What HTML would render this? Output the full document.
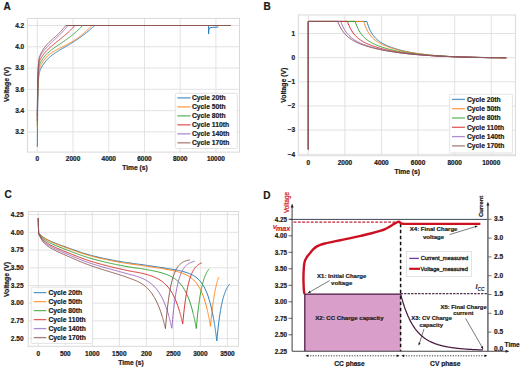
<!DOCTYPE html><html><head><meta charset="utf-8"><style>html,body{margin:0;padding:0;background:#fff;}svg{display:block;}text{font-family:"Liberation Sans",sans-serif;}</style></head><body>
<svg width="520" height="367" viewBox="0 0 520 367">
<rect width="520" height="367" fill="#fff"/>
<rect x="27.4" y="18.4" width="212.1" height="133.7" fill="none" stroke="#d9d9d9" stroke-width="1"/>
<line x1="27.4" y1="131.9" x2="239.5" y2="131.9" stroke="#dfdfdf" stroke-width="0.9"/>
<text x="24.2" y="134.2" font-size="6.5" text-anchor="end" font-weight="bold" fill="#1a1a1a" stroke="#1a1a1a" stroke-width="0.2" >3.2</text>
<line x1="27.4" y1="110.62" x2="239.5" y2="110.62" stroke="#dfdfdf" stroke-width="0.9"/>
<text x="24.2" y="112.92" font-size="6.5" text-anchor="end" font-weight="bold" fill="#1a1a1a" stroke="#1a1a1a" stroke-width="0.2" >3.4</text>
<line x1="27.4" y1="89.34" x2="239.5" y2="89.34" stroke="#dfdfdf" stroke-width="0.9"/>
<text x="24.2" y="91.64" font-size="6.5" text-anchor="end" font-weight="bold" fill="#1a1a1a" stroke="#1a1a1a" stroke-width="0.2" >3.6</text>
<line x1="27.4" y1="68.06" x2="239.5" y2="68.06" stroke="#dfdfdf" stroke-width="0.9"/>
<text x="24.2" y="70.36" font-size="6.5" text-anchor="end" font-weight="bold" fill="#1a1a1a" stroke="#1a1a1a" stroke-width="0.2" >3.8</text>
<line x1="27.4" y1="46.78" x2="239.5" y2="46.78" stroke="#dfdfdf" stroke-width="0.9"/>
<text x="24.2" y="49.08" font-size="6.5" text-anchor="end" font-weight="bold" fill="#1a1a1a" stroke="#1a1a1a" stroke-width="0.2" >4.0</text>
<line x1="27.4" y1="25.5" x2="239.5" y2="25.5" stroke="#dfdfdf" stroke-width="0.9"/>
<text x="24.2" y="27.8" font-size="6.5" text-anchor="end" font-weight="bold" fill="#1a1a1a" stroke="#1a1a1a" stroke-width="0.2" >4.2</text>
<line x1="37.3" y1="18.4" x2="37.3" y2="152.1" stroke="#dfdfdf" stroke-width="0.9"/>
<text x="37.3" y="160.6" font-size="6.5" text-anchor="middle" font-weight="bold" fill="#1a1a1a" stroke="#1a1a1a" stroke-width="0.2" >0</text>
<line x1="73.02" y1="18.4" x2="73.02" y2="152.1" stroke="#dfdfdf" stroke-width="0.9"/>
<text x="73.02" y="160.6" font-size="6.5" text-anchor="middle" font-weight="bold" fill="#1a1a1a" stroke="#1a1a1a" stroke-width="0.2" >2000</text>
<line x1="108.75" y1="18.4" x2="108.75" y2="152.1" stroke="#dfdfdf" stroke-width="0.9"/>
<text x="108.75" y="160.6" font-size="6.5" text-anchor="middle" font-weight="bold" fill="#1a1a1a" stroke="#1a1a1a" stroke-width="0.2" >4000</text>
<line x1="144.47" y1="18.4" x2="144.47" y2="152.1" stroke="#dfdfdf" stroke-width="0.9"/>
<text x="144.47" y="160.6" font-size="6.5" text-anchor="middle" font-weight="bold" fill="#1a1a1a" stroke="#1a1a1a" stroke-width="0.2" >6000</text>
<line x1="180.2" y1="18.4" x2="180.2" y2="152.1" stroke="#dfdfdf" stroke-width="0.9"/>
<text x="180.2" y="160.6" font-size="6.5" text-anchor="middle" font-weight="bold" fill="#1a1a1a" stroke="#1a1a1a" stroke-width="0.2" >8000</text>
<line x1="215.92" y1="18.4" x2="215.92" y2="152.1" stroke="#dfdfdf" stroke-width="0.9"/>
<text x="215.92" y="160.6" font-size="6.5" text-anchor="middle" font-weight="bold" fill="#1a1a1a" stroke="#1a1a1a" stroke-width="0.2" >10000</text>
<text x="135" y="170.3" font-size="6.7" text-anchor="middle" font-weight="bold" fill="#1a1a1a" stroke="#1a1a1a" stroke-width="0.2" >Time (s)</text>
<text transform="translate(6.9 84.5) rotate(-90)" font-size="6.85" text-anchor="middle" font-weight="bold" fill="#1a1a1a" stroke="#1a1a1a" stroke-width="0.2" dominant-baseline="central">Voltage (V)</text>
<path d="M37.3 146.8 L37.33 142.63 L37.36 138.7 L37.39 135 L37.42 131.51 L37.45 128.22 L37.48 125.11 L37.51 122.18 L37.54 119.42 L37.57 116.81 L37.6 114.35 L37.63 112.03 L37.66 109.85 L37.69 107.78 L37.72 105.83 L37.75 103.99 L37.78 102.25 L37.81 100.61 L37.84 99.06 L37.87 97.6 L37.9 96.22 L37.93 94.91 L37.96 93.68 L37.99 92.51 L38.02 91.41 L38.05 90.36 L38.08 89.38 L38.11 88.45 L38.14 87.56 L38.17 86.73 L38.2 85.94 L38.23 85.19 L38.26 84.48 L38.29 83.81 L38.32 83.17 L38.35 82.57 L38.38 81.99 L38.41 81.45 L38.44 80.93 L38.47 80.44 L38.5 79.98 L38.53 79.54 L38.56 79.12 L38.59 78.72 L38.62 78.34 L38.65 77.97 L38.68 77.63 L38.71 77.3 L38.74 76.99 L38.77 76.69 L38.8 76.4 L38.83 76.13 L38.86 75.87 L38.89 75.62 L38.92 75.38 L38.95 75.15 L38.98 74.93 L39.01 74.72 L39.04 74.52 L39.07 74.33 L39.1 74.14 L39.13 73.96 L39.16 73.79 L39.19 73.62 L39.22 73.46 L39.25 73.31 L39.28 73.16 L39.31 73.01 L39.34 72.88 L39.37 72.74 L39.4 72.61 L39.43 72.48 L39.46 72.36 L39.49 72.24 L39.52 72.12 L39.55 72.01 L39.58 71.9 L39.61 71.79 L39.64 71.69 L39.67 71.59 L39.7 71.49 L39.73 71.39 L39.76 71.3 L39.79 71.2 L39.82 71.11 L39.85 71.02 L39.88 70.94 L39.91 70.85 L39.94 70.77 L39.97 70.68 L40 70.6 L40.03 70.52 L40.06 70.44 L40.09 70.36 L40.12 70.29 L40.15 70.21 L40.18 70.14 L40.21 70.06 L40.24 69.99 L40.27 69.92 L40.3 69.85 L40.33 69.78 L40.36 69.71 L40.39 69.64 L40.42 69.57 L40.45 69.51 L40.48 69.44 L40.51 69.37 L40.54 69.31 L40.57 69.24 L40.6 69.18 L40.63 69.12 L40.66 69.05 L40.69 68.99 L40.72 68.93 L40.75 68.87 L40.78 68.81 L40.81 68.74 L40.84 68.68 L40.87 68.62 L41.32 67.76 L41.78 66.94 L42.23 66.17 L42.68 65.44 L43.13 64.74 L43.59 64.06 L44.04 63.42 L44.49 62.8 L44.94 62.2 L45.4 61.63 L45.85 61.08 L46.3 60.55 L46.75 60.04 L47.21 59.55 L47.66 59.07 L48.11 58.61 L48.56 58.17 L49.02 57.74 L49.47 57.32 L49.92 56.92 L50.37 56.53 L50.83 56.15 L51.28 55.78 L51.73 55.42 L52.18 55.07 L52.63 54.72 L53.09 54.39 L53.54 54.06 L53.99 53.74 L54.44 53.43 L54.9 53.12 L55.35 52.82 L55.8 52.52 L56.25 52.23 L56.71 51.94 L57.16 51.65 L57.61 51.37 L58.06 51.09 L58.52 50.81 L58.97 50.54 L59.42 50.27 L59.87 50 L60.33 49.73 L60.78 49.47 L61.23 49.2 L61.68 48.94 L62.14 48.68 L62.59 48.42 L63.04 48.16 L63.49 47.89 L63.95 47.63 L64.4 47.37 L64.85 47.11 L65.3 46.85 L65.75 46.59 L66.21 46.32 L66.66 46.06 L67.11 45.79 L67.56 45.53 L68.02 45.26 L68.47 44.99 L68.92 44.73 L69.37 44.45 L69.83 44.18 L70.28 43.91 L70.73 43.63 L71.18 43.36 L71.64 43.08 L72.09 42.8 L72.54 42.51 L72.99 42.23 L73.45 41.94 L73.9 41.65 L74.35 41.36 L74.8 41.07 L75.26 40.77 L75.71 40.47 L76.16 40.17 L76.61 39.87 L77.06 39.57 L77.52 39.26 L77.97 38.95 L78.42 38.64 L78.87 38.32 L79.33 38 L79.78 37.68 L80.23 37.36 L80.68 37.03 L81.14 36.71 L81.59 36.37 L82.04 36.04 L82.49 35.7 L82.95 35.36 L83.4 35.02 L83.85 34.68 L84.3 34.33 L84.76 33.98 L85.21 33.62 L85.66 33.27 L86.11 32.91 L86.57 32.54 L87.02 32.18 L87.47 31.81 L87.92 31.44 L88.37 31.06 L88.83 30.68 L89.28 30.3 L89.73 29.92 L90.18 29.53 L90.64 29.14 L91.09 28.75 L91.54 28.36 L91.99 27.96 L92.45 27.55 L92.9 27.15 L93.35 26.74 L93.8 26.33 L94.26 25.92 L94.71 25.5 L208.61 25.5 L208.61 33.8 L208.78 29.76 L209.67 27.84 L212.35 27.42 L218.42 26.99" fill="none" stroke="#1f77b4" stroke-width="0.95" stroke-linejoin="round" stroke-linecap="butt" />
<path d="M37.3 127.64 L37.33 124.41 L37.36 121.37 L37.39 118.49 L37.42 115.78 L37.45 113.22 L37.48 110.81 L37.51 108.53 L37.54 106.38 L37.57 104.35 L37.6 102.43 L37.63 100.62 L37.66 98.91 L37.69 97.3 L37.72 95.78 L37.75 94.34 L37.78 92.98 L37.81 91.69 L37.84 90.47 L37.87 89.32 L37.9 88.24 L37.93 87.21 L37.96 86.24 L37.99 85.32 L38.02 84.45 L38.05 83.62 L38.08 82.84 L38.11 82.1 L38.14 81.4 L38.17 80.73 L38.2 80.1 L38.23 79.5 L38.26 78.94 L38.29 78.4 L38.32 77.89 L38.35 77.4 L38.38 76.94 L38.41 76.5 L38.44 76.08 L38.47 75.68 L38.5 75.3 L38.53 74.94 L38.56 74.6 L38.59 74.27 L38.62 73.96 L38.65 73.66 L38.68 73.37 L38.71 73.1 L38.74 72.84 L38.77 72.59 L38.8 72.35 L38.83 72.12 L38.86 71.9 L38.89 71.68 L38.92 71.48 L38.95 71.29 L38.98 71.1 L39.01 70.92 L39.04 70.74 L39.07 70.57 L39.1 70.41 L39.13 70.25 L39.16 70.1 L39.19 69.96 L39.22 69.81 L39.25 69.68 L39.28 69.54 L39.31 69.41 L39.34 69.29 L39.37 69.16 L39.4 69.05 L39.43 68.93 L39.46 68.82 L39.49 68.71 L39.52 68.6 L39.55 68.5 L39.58 68.39 L39.61 68.29 L39.64 68.19 L39.67 68.1 L39.7 68 L39.73 67.91 L39.76 67.82 L39.79 67.73 L39.82 67.65 L39.85 67.56 L39.88 67.48 L39.91 67.39 L39.94 67.31 L39.97 67.23 L40 67.15 L40.03 67.07 L40.06 67 L40.09 66.92 L40.12 66.84 L40.15 66.77 L40.18 66.7 L40.21 66.62 L40.24 66.55 L40.27 66.48 L40.3 66.41 L40.33 66.34 L40.36 66.27 L40.39 66.2 L40.42 66.13 L40.45 66.07 L40.48 66 L40.51 65.93 L40.54 65.87 L40.57 65.8 L40.6 65.74 L40.63 65.68 L40.66 65.61 L40.69 65.55 L40.72 65.49 L40.75 65.42 L40.78 65.36 L40.81 65.3 L40.84 65.24 L40.87 65.18 L41.3 64.34 L41.73 63.56 L42.16 62.82 L42.59 62.11 L43.02 61.44 L43.45 60.8 L43.87 60.19 L44.3 59.61 L44.73 59.05 L45.16 58.52 L45.59 58.02 L46.02 57.53 L46.45 57.06 L46.88 56.62 L47.3 56.19 L47.73 55.78 L48.16 55.38 L48.59 55.01 L49.02 54.64 L49.45 54.29 L49.88 53.95 L50.31 53.62 L50.74 53.31 L51.16 53 L51.59 52.71 L52.02 52.42 L52.45 52.14 L52.88 51.87 L53.31 51.61 L53.74 51.35 L54.17 51.1 L54.6 50.85 L55.02 50.61 L55.45 50.38 L55.88 50.14 L56.31 49.92 L56.74 49.69 L57.17 49.47 L57.6 49.25 L58.03 49.03 L58.45 48.82 L58.88 48.6 L59.31 48.39 L59.74 48.18 L60.17 47.97 L60.6 47.76 L61.03 47.55 L61.46 47.34 L61.89 47.13 L62.31 46.92 L62.74 46.71 L63.17 46.5 L63.6 46.29 L64.03 46.08 L64.46 45.86 L64.89 45.64 L65.32 45.43 L65.75 45.21 L66.17 44.99 L66.6 44.76 L67.03 44.54 L67.46 44.31 L67.89 44.08 L68.32 43.85 L68.75 43.61 L69.18 43.38 L69.6 43.14 L70.03 42.89 L70.46 42.65 L70.89 42.4 L71.32 42.14 L71.75 41.89 L72.18 41.63 L72.61 41.37 L73.04 41.1 L73.46 40.83 L73.89 40.56 L74.32 40.29 L74.75 40.01 L75.18 39.72 L75.61 39.44 L76.04 39.15 L76.47 38.85 L76.89 38.55 L77.32 38.25 L77.75 37.95 L78.18 37.64 L78.61 37.32 L79.04 37 L79.47 36.68 L79.9 36.36 L80.33 36.03 L80.75 35.69 L81.18 35.35 L81.61 35.01 L82.04 34.67 L82.47 34.32 L82.9 33.96 L83.33 33.6 L83.76 33.24 L84.19 32.87 L84.61 32.5 L85.04 32.12 L85.47 31.74 L85.9 31.36 L86.33 30.97 L86.76 30.57 L87.19 30.17 L87.62 29.77 L88.04 29.36 L88.47 28.95 L88.9 28.54 L89.33 28.12 L89.76 27.69 L90.19 27.26 L90.62 26.83 L91.05 26.39 L91.48 25.95 L91.9 25.5 L230.92 25.5" fill="none" stroke="#ff7f0e" stroke-width="0.95" stroke-linejoin="round" stroke-linecap="butt" />
<path d="M37.3 125.52 L37.33 122.16 L37.36 118.99 L37.39 116 L37.42 113.19 L37.45 110.53 L37.48 108.03 L37.51 105.66 L37.54 103.43 L37.57 101.33 L37.6 99.34 L37.63 97.47 L37.66 95.7 L37.69 94.03 L37.72 92.46 L37.75 90.97 L37.78 89.56 L37.81 88.24 L37.84 86.98 L37.87 85.8 L37.9 84.68 L37.93 83.62 L37.96 82.62 L37.99 81.68 L38.02 80.78 L38.05 79.94 L38.08 79.14 L38.11 78.38 L38.14 77.66 L38.17 76.98 L38.2 76.34 L38.23 75.73 L38.26 75.15 L38.29 74.6 L38.32 74.08 L38.35 73.59 L38.38 73.12 L38.41 72.68 L38.44 72.26 L38.47 71.86 L38.5 71.47 L38.53 71.11 L38.56 70.77 L38.59 70.44 L38.62 70.12 L38.65 69.83 L38.68 69.54 L38.71 69.27 L38.74 69.01 L38.77 68.76 L38.8 68.53 L38.83 68.3 L38.86 68.08 L38.89 67.88 L38.92 67.68 L38.95 67.49 L38.98 67.3 L39.01 67.13 L39.04 66.96 L39.07 66.8 L39.1 66.64 L39.13 66.49 L39.16 66.34 L39.19 66.2 L39.22 66.07 L39.25 65.94 L39.28 65.81 L39.31 65.69 L39.34 65.57 L39.37 65.46 L39.4 65.34 L39.43 65.24 L39.46 65.13 L39.49 65.03 L39.52 64.93 L39.55 64.83 L39.58 64.74 L39.61 64.64 L39.64 64.55 L39.67 64.47 L39.7 64.38 L39.73 64.29 L39.76 64.21 L39.79 64.13 L39.82 64.05 L39.85 63.97 L39.88 63.9 L39.91 63.82 L39.94 63.75 L39.97 63.68 L40 63.6 L40.03 63.53 L40.06 63.46 L40.09 63.39 L40.12 63.33 L40.15 63.26 L40.18 63.19 L40.21 63.13 L40.24 63.07 L40.27 63 L40.3 62.94 L40.33 62.88 L40.36 62.82 L40.39 62.75 L40.42 62.69 L40.45 62.63 L40.48 62.57 L40.51 62.52 L40.54 62.46 L40.57 62.4 L40.6 62.34 L40.63 62.29 L40.66 62.23 L40.69 62.17 L40.72 62.12 L40.75 62.06 L40.78 62.01 L40.81 61.95 L40.84 61.9 L40.87 61.84 L41.22 61.23 L41.58 60.65 L41.93 60.09 L42.28 59.56 L42.63 59.04 L42.98 58.54 L43.33 58.06 L43.68 57.59 L44.04 57.13 L44.39 56.69 L44.74 56.26 L45.09 55.85 L45.44 55.44 L45.79 55.05 L46.15 54.67 L46.5 54.3 L46.85 53.93 L47.2 53.58 L47.55 53.24 L47.9 52.9 L48.25 52.57 L48.61 52.25 L48.96 51.93 L49.31 51.63 L49.66 51.32 L50.01 51.03 L50.36 50.74 L50.72 50.45 L51.07 50.17 L51.42 49.9 L51.77 49.62 L52.12 49.36 L52.47 49.09 L52.82 48.83 L53.18 48.57 L53.53 48.32 L53.88 48.07 L54.23 47.82 L54.58 47.57 L54.93 47.33 L55.29 47.08 L55.64 46.84 L55.99 46.6 L56.34 46.36 L56.69 46.13 L57.04 45.89 L57.39 45.66 L57.75 45.42 L58.1 45.19 L58.45 44.95 L58.8 44.72 L59.15 44.49 L59.5 44.25 L59.86 44.02 L60.21 43.79 L60.56 43.55 L60.91 43.32 L61.26 43.09 L61.61 42.85 L61.96 42.61 L62.32 42.38 L62.67 42.14 L63.02 41.9 L63.37 41.66 L63.72 41.42 L64.07 41.18 L64.43 40.94 L64.78 40.69 L65.13 40.45 L65.48 40.2 L65.83 39.95 L66.18 39.7 L66.53 39.45 L66.89 39.2 L67.24 38.94 L67.59 38.68 L67.94 38.43 L68.29 38.17 L68.64 37.9 L69 37.64 L69.35 37.37 L69.7 37.1 L70.05 36.83 L70.4 36.56 L70.75 36.29 L71.1 36.01 L71.46 35.73 L71.81 35.45 L72.16 35.17 L72.51 34.88 L72.86 34.59 L73.21 34.3 L73.57 34.01 L73.92 33.71 L74.27 33.42 L74.62 33.12 L74.97 32.81 L75.32 32.51 L75.67 32.2 L76.03 31.89 L76.38 31.58 L76.73 31.26 L77.08 30.94 L77.43 30.62 L77.78 30.3 L78.14 29.98 L78.49 29.65 L78.84 29.32 L79.19 28.98 L79.54 28.65 L79.89 28.31 L80.24 27.97 L80.6 27.62 L80.95 27.28 L81.3 26.93 L81.65 26.57 L82 26.22 L82.35 25.86 L82.71 25.5 L230.92 25.5" fill="none" stroke="#2ca02c" stroke-width="0.95" stroke-linejoin="round" stroke-linecap="butt" />
<path d="M37.3 121.26 L37.33 117.92 L37.36 114.77 L37.39 111.8 L37.42 109 L37.45 106.36 L37.48 103.87 L37.51 101.52 L37.54 99.3 L37.57 97.21 L37.6 95.24 L37.63 93.38 L37.66 91.62 L37.69 89.96 L37.72 88.4 L37.75 86.92 L37.78 85.52 L37.81 84.21 L37.84 82.96 L37.87 81.79 L37.9 80.68 L37.93 79.63 L37.96 78.64 L37.99 77.7 L38.02 76.81 L38.05 75.97 L38.08 75.18 L38.11 74.43 L38.14 73.72 L38.17 73.05 L38.2 72.41 L38.23 71.81 L38.26 71.24 L38.29 70.7 L38.32 70.19 L38.35 69.7 L38.38 69.24 L38.41 68.8 L38.44 68.39 L38.47 67.99 L38.5 67.62 L38.53 67.26 L38.56 66.92 L38.59 66.6 L38.62 66.29 L38.65 66 L38.68 65.72 L38.71 65.45 L38.74 65.2 L38.77 64.96 L38.8 64.72 L38.83 64.5 L38.86 64.29 L38.89 64.09 L38.92 63.89 L38.95 63.71 L38.98 63.53 L39.01 63.36 L39.04 63.2 L39.07 63.04 L39.1 62.89 L39.13 62.74 L39.16 62.6 L39.19 62.46 L39.22 62.33 L39.25 62.21 L39.28 62.08 L39.31 61.97 L39.34 61.85 L39.37 61.74 L39.4 61.63 L39.43 61.53 L39.46 61.43 L39.49 61.33 L39.52 61.23 L39.55 61.14 L39.58 61.05 L39.61 60.96 L39.64 60.88 L39.67 60.79 L39.7 60.71 L39.73 60.63 L39.76 60.55 L39.79 60.47 L39.82 60.4 L39.85 60.32 L39.88 60.25 L39.91 60.18 L39.94 60.11 L39.97 60.04 L40 59.97 L40.03 59.9 L40.06 59.84 L40.09 59.77 L40.12 59.71 L40.15 59.65 L40.18 59.58 L40.21 59.52 L40.24 59.46 L40.27 59.4 L40.3 59.34 L40.33 59.28 L40.36 59.22 L40.39 59.17 L40.42 59.11 L40.45 59.05 L40.48 59 L40.51 58.94 L40.54 58.88 L40.57 58.83 L40.6 58.78 L40.63 58.72 L40.66 58.67 L40.69 58.61 L40.72 58.56 L40.75 58.51 L40.78 58.46 L40.81 58.41 L40.84 58.35 L40.87 58.3 L41.16 57.83 L41.45 57.37 L41.73 56.93 L42.02 56.5 L42.31 56.09 L42.59 55.68 L42.88 55.28 L43.17 54.9 L43.45 54.52 L43.74 54.15 L44.03 53.79 L44.31 53.43 L44.6 53.08 L44.89 52.74 L45.17 52.41 L45.46 52.08 L45.75 51.76 L46.03 51.44 L46.32 51.13 L46.61 50.82 L46.89 50.52 L47.18 50.23 L47.47 49.94 L47.75 49.65 L48.04 49.37 L48.33 49.09 L48.61 48.82 L48.9 48.54 L49.19 48.28 L49.47 48.01 L49.76 47.75 L50.05 47.49 L50.33 47.24 L50.62 46.98 L50.91 46.73 L51.19 46.48 L51.48 46.24 L51.77 45.99 L52.05 45.75 L52.34 45.51 L52.63 45.27 L52.91 45.03 L53.2 44.79 L53.49 44.56 L53.77 44.32 L54.06 44.09 L54.35 43.86 L54.63 43.62 L54.92 43.39 L55.21 43.16 L55.49 42.93 L55.78 42.7 L56.07 42.47 L56.35 42.25 L56.64 42.02 L56.93 41.79 L57.21 41.56 L57.5 41.33 L57.79 41.1 L58.07 40.87 L58.36 40.64 L58.65 40.42 L58.93 40.19 L59.22 39.96 L59.51 39.73 L59.79 39.49 L60.08 39.26 L60.37 39.03 L60.65 38.8 L60.94 38.56 L61.23 38.33 L61.51 38.09 L61.8 37.86 L62.09 37.62 L62.37 37.38 L62.66 37.14 L62.95 36.9 L63.23 36.66 L63.52 36.42 L63.81 36.17 L64.09 35.93 L64.38 35.68 L64.67 35.44 L64.95 35.19 L65.24 34.94 L65.53 34.69 L65.81 34.43 L66.1 34.18 L66.39 33.93 L66.67 33.67 L66.96 33.41 L67.25 33.15 L67.53 32.89 L67.82 32.63 L68.11 32.36 L68.39 32.09 L68.68 31.83 L68.97 31.56 L69.25 31.29 L69.54 31.01 L69.83 30.74 L70.12 30.46 L70.4 30.19 L70.69 29.91 L70.98 29.62 L71.26 29.34 L71.55 29.06 L71.84 28.77 L72.12 28.48 L72.41 28.19 L72.7 27.9 L72.98 27.6 L73.27 27.31 L73.56 27.01 L73.84 26.71 L74.13 26.41 L74.42 26.1 L74.7 25.8 L74.99 25.5 L230.92 25.5" fill="none" stroke="#d62728" stroke-width="0.95" stroke-linejoin="round" stroke-linecap="butt" />
<path d="M37.3 118.07 L37.33 114.7 L37.36 111.53 L37.39 108.54 L37.42 105.72 L37.45 103.06 L37.48 100.55 L37.51 98.18 L37.54 95.95 L37.57 93.85 L37.6 91.86 L37.63 89.99 L37.66 88.22 L37.69 86.55 L37.72 84.98 L37.75 83.49 L37.78 82.09 L37.81 80.76 L37.84 79.51 L37.87 78.33 L37.9 77.21 L37.93 76.16 L37.96 75.16 L37.99 74.22 L38.02 73.33 L38.05 72.49 L38.08 71.69 L38.11 70.94 L38.14 70.23 L38.17 69.55 L38.2 68.92 L38.23 68.31 L38.26 67.74 L38.29 67.2 L38.32 66.68 L38.35 66.2 L38.38 65.74 L38.41 65.3 L38.44 64.88 L38.47 64.49 L38.5 64.11 L38.53 63.75 L38.56 63.42 L38.59 63.09 L38.62 62.79 L38.65 62.49 L38.68 62.22 L38.71 61.95 L38.74 61.7 L38.77 61.46 L38.8 61.23 L38.83 61.01 L38.86 60.8 L38.89 60.6 L38.92 60.4 L38.95 60.22 L38.98 60.04 L39.01 59.87 L39.04 59.71 L39.07 59.55 L39.1 59.4 L39.13 59.26 L39.16 59.12 L39.19 58.99 L39.22 58.86 L39.25 58.73 L39.28 58.61 L39.31 58.5 L39.34 58.38 L39.37 58.27 L39.4 58.17 L39.43 58.07 L39.46 57.97 L39.49 57.87 L39.52 57.78 L39.55 57.69 L39.58 57.6 L39.61 57.51 L39.64 57.43 L39.67 57.34 L39.7 57.26 L39.73 57.19 L39.76 57.11 L39.79 57.03 L39.82 56.96 L39.85 56.89 L39.88 56.82 L39.91 56.75 L39.94 56.68 L39.97 56.61 L40 56.54 L40.03 56.48 L40.06 56.42 L40.09 56.35 L40.12 56.29 L40.15 56.23 L40.18 56.17 L40.21 56.11 L40.24 56.05 L40.27 55.99 L40.3 55.93 L40.33 55.88 L40.36 55.82 L40.39 55.76 L40.42 55.71 L40.45 55.65 L40.48 55.6 L40.51 55.54 L40.54 55.49 L40.57 55.44 L40.6 55.38 L40.63 55.33 L40.66 55.28 L40.69 55.23 L40.72 55.18 L40.75 55.13 L40.78 55.08 L40.81 55.03 L40.84 54.98 L40.87 54.93 L41.1 54.56 L41.33 54.2 L41.56 53.86 L41.78 53.52 L42.01 53.19 L42.24 52.86 L42.47 52.54 L42.7 52.23 L42.92 51.92 L43.15 51.62 L43.38 51.32 L43.61 51.03 L43.84 50.74 L44.06 50.45 L44.29 50.17 L44.52 49.89 L44.75 49.62 L44.98 49.35 L45.2 49.08 L45.43 48.82 L45.66 48.56 L45.89 48.3 L46.12 48.05 L46.34 47.79 L46.57 47.54 L46.8 47.3 L47.03 47.05 L47.26 46.81 L47.48 46.57 L47.71 46.33 L47.94 46.09 L48.17 45.86 L48.4 45.63 L48.62 45.39 L48.85 45.17 L49.08 44.94 L49.31 44.71 L49.54 44.48 L49.76 44.26 L49.99 44.04 L50.22 43.81 L50.45 43.59 L50.68 43.37 L50.9 43.15 L51.13 42.93 L51.36 42.72 L51.59 42.5 L51.82 42.28 L52.04 42.07 L52.27 41.85 L52.5 41.63 L52.73 41.42 L52.96 41.2 L53.18 40.99 L53.41 40.77 L53.64 40.56 L53.87 40.34 L54.1 40.13 L54.32 39.91 L54.55 39.7 L54.78 39.48 L55.01 39.27 L55.24 39.05 L55.46 38.83 L55.69 38.62 L55.92 38.4 L56.15 38.18 L56.38 37.96 L56.6 37.75 L56.83 37.53 L57.06 37.31 L57.29 37.09 L57.52 36.86 L57.74 36.64 L57.97 36.42 L58.2 36.2 L58.43 35.97 L58.66 35.75 L58.88 35.52 L59.11 35.3 L59.34 35.07 L59.57 34.84 L59.8 34.61 L60.02 34.38 L60.25 34.15 L60.48 33.91 L60.71 33.68 L60.94 33.44 L61.16 33.21 L61.39 32.97 L61.62 32.73 L61.85 32.49 L62.08 32.25 L62.3 32.01 L62.53 31.77 L62.76 31.52 L62.99 31.28 L63.22 31.03 L63.44 30.78 L63.67 30.53 L63.9 30.28 L64.13 30.03 L64.36 29.77 L64.58 29.52 L64.81 29.26 L65.04 29 L65.27 28.74 L65.5 28.48 L65.72 28.21 L65.95 27.95 L66.18 27.68 L66.41 27.42 L66.64 27.15 L66.86 26.88 L67.09 26.6 L67.32 26.33 L67.55 26.05 L67.78 25.78 L68 25.5 L230.92 25.5" fill="none" stroke="#9467bd" stroke-width="0.95" stroke-linejoin="round" stroke-linecap="butt" />
<path d="M37.3 115.94 L37.33 112.72 L37.36 109.68 L37.39 106.81 L37.42 104.1 L37.45 101.55 L37.48 99.14 L37.51 96.87 L37.54 94.72 L37.57 92.7 L37.6 90.79 L37.63 88.98 L37.66 87.28 L37.69 85.67 L37.72 84.15 L37.75 82.71 L37.78 81.35 L37.81 80.07 L37.84 78.85 L37.87 77.71 L37.9 76.62 L37.93 75.59 L37.96 74.62 L37.99 73.7 L38.02 72.83 L38.05 72.01 L38.08 71.23 L38.11 70.49 L38.14 69.79 L38.17 69.12 L38.2 68.49 L38.23 67.9 L38.26 67.33 L38.29 66.79 L38.32 66.28 L38.35 65.79 L38.38 65.33 L38.41 64.89 L38.44 64.47 L38.47 64.07 L38.5 63.69 L38.53 63.33 L38.56 62.99 L38.59 62.66 L38.62 62.35 L38.65 62.05 L38.68 61.76 L38.71 61.49 L38.74 61.22 L38.77 60.97 L38.8 60.73 L38.83 60.5 L38.86 60.28 L38.89 60.07 L38.92 59.86 L38.95 59.67 L38.98 59.48 L39.01 59.3 L39.04 59.12 L39.07 58.95 L39.1 58.79 L39.13 58.63 L39.16 58.48 L39.19 58.33 L39.22 58.19 L39.25 58.05 L39.28 57.92 L39.31 57.79 L39.34 57.66 L39.37 57.54 L39.4 57.42 L39.43 57.3 L39.46 57.19 L39.49 57.08 L39.52 56.97 L39.55 56.86 L39.58 56.76 L39.61 56.66 L39.64 56.56 L39.67 56.46 L39.7 56.37 L39.73 56.27 L39.76 56.18 L39.79 56.09 L39.82 56.01 L39.85 55.92 L39.88 55.83 L39.91 55.75 L39.94 55.67 L39.97 55.59 L40 55.51 L40.03 55.43 L40.06 55.35 L40.09 55.27 L40.12 55.2 L40.15 55.12 L40.18 55.05 L40.21 54.97 L40.24 54.9 L40.27 54.83 L40.3 54.76 L40.33 54.69 L40.36 54.62 L40.39 54.55 L40.42 54.48 L40.45 54.41 L40.48 54.34 L40.51 54.28 L40.54 54.21 L40.57 54.14 L40.6 54.08 L40.63 54.01 L40.66 53.95 L40.69 53.89 L40.72 53.82 L40.75 53.76 L40.78 53.7 L40.81 53.63 L40.84 53.57 L40.87 53.51 L41.08 53.09 L41.29 52.68 L41.5 52.29 L41.71 51.91 L41.92 51.53 L42.13 51.17 L42.34 50.81 L42.55 50.47 L42.76 50.13 L42.97 49.79 L43.18 49.47 L43.39 49.15 L43.6 48.84 L43.81 48.53 L44.02 48.23 L44.23 47.94 L44.43 47.65 L44.64 47.37 L44.85 47.09 L45.06 46.82 L45.27 46.55 L45.48 46.29 L45.69 46.04 L45.9 45.78 L46.11 45.53 L46.32 45.29 L46.53 45.05 L46.74 44.81 L46.95 44.57 L47.16 44.34 L47.37 44.12 L47.58 43.89 L47.79 43.67 L48 43.45 L48.21 43.23 L48.42 43.02 L48.63 42.81 L48.83 42.6 L49.04 42.39 L49.25 42.19 L49.46 41.98 L49.67 41.78 L49.88 41.58 L50.09 41.39 L50.3 41.19 L50.51 40.99 L50.72 40.8 L50.93 40.61 L51.14 40.41 L51.35 40.22 L51.56 40.03 L51.77 39.84 L51.98 39.65 L52.19 39.47 L52.4 39.28 L52.61 39.09 L52.82 38.9 L53.03 38.72 L53.24 38.53 L53.44 38.34 L53.65 38.16 L53.86 37.97 L54.07 37.78 L54.28 37.6 L54.49 37.41 L54.7 37.22 L54.91 37.03 L55.12 36.84 L55.33 36.65 L55.54 36.47 L55.75 36.27 L55.96 36.08 L56.17 35.89 L56.38 35.7 L56.59 35.51 L56.8 35.31 L57.01 35.12 L57.22 34.92 L57.43 34.72 L57.64 34.52 L57.85 34.32 L58.05 34.12 L58.26 33.92 L58.47 33.72 L58.68 33.51 L58.89 33.31 L59.1 33.1 L59.31 32.89 L59.52 32.68 L59.73 32.47 L59.94 32.25 L60.15 32.04 L60.36 31.82 L60.57 31.6 L60.78 31.38 L60.99 31.16 L61.2 30.93 L61.41 30.71 L61.62 30.48 L61.83 30.25 L62.04 30.02 L62.25 29.79 L62.46 29.55 L62.66 29.31 L62.87 29.07 L63.08 28.83 L63.29 28.59 L63.5 28.34 L63.71 28.1 L63.92 27.85 L64.13 27.59 L64.34 27.34 L64.55 27.08 L64.76 26.82 L64.97 26.56 L65.18 26.3 L65.39 26.03 L65.6 25.77 L65.81 25.5 L230.92 25.5" fill="none" stroke="#8c564b" stroke-width="0.95" stroke-linejoin="round" stroke-linecap="butt" />
<rect x="175.3" y="93.3" width="62" height="55.2" fill="#ffffff" fill-opacity="0.85" stroke="#dcdcdc" stroke-width="0.8" rx="1"/>
<line x1="177.4" y1="97.9" x2="190.5" y2="97.9" stroke="#1f77b4" stroke-width="1.3" stroke-opacity="0.75"/>
<text x="191.9" y="100.33" font-size="6.75" text-anchor="start" font-weight="bold" fill="#1a1a1a" stroke="#1a1a1a" stroke-width="0.2" >Cycle 20th</text>
<line x1="177.4" y1="106.88" x2="190.5" y2="106.88" stroke="#ff7f0e" stroke-width="1.3" stroke-opacity="0.75"/>
<text x="191.9" y="109.31" font-size="6.75" text-anchor="start" font-weight="bold" fill="#1a1a1a" stroke="#1a1a1a" stroke-width="0.2" >Cycle 50th</text>
<line x1="177.4" y1="115.86" x2="190.5" y2="115.86" stroke="#2ca02c" stroke-width="1.3" stroke-opacity="0.75"/>
<text x="191.9" y="118.29" font-size="6.75" text-anchor="start" font-weight="bold" fill="#1a1a1a" stroke="#1a1a1a" stroke-width="0.2" >Cycle 80th</text>
<line x1="177.4" y1="124.84" x2="190.5" y2="124.84" stroke="#d62728" stroke-width="1.3" stroke-opacity="0.75"/>
<text x="191.9" y="127.27" font-size="6.75" text-anchor="start" font-weight="bold" fill="#1a1a1a" stroke="#1a1a1a" stroke-width="0.2" >Cycle 110th</text>
<line x1="177.4" y1="133.82" x2="190.5" y2="133.82" stroke="#9467bd" stroke-width="1.3" stroke-opacity="0.75"/>
<text x="191.9" y="136.25" font-size="6.75" text-anchor="start" font-weight="bold" fill="#1a1a1a" stroke="#1a1a1a" stroke-width="0.2" >Cycle 140th</text>
<line x1="177.4" y1="142.8" x2="190.5" y2="142.8" stroke="#8c564b" stroke-width="1.3" stroke-opacity="0.75"/>
<text x="191.9" y="145.23" font-size="6.75" text-anchor="start" font-weight="bold" fill="#1a1a1a" stroke="#1a1a1a" stroke-width="0.2" >Cycle 170th</text>
<text x="3.5" y="9.7" font-size="10.0" text-anchor="start" font-weight="bold" fill="#1a1a1a" stroke="#1a1a1a" stroke-width="0.2" >A</text>
<rect x="298.3" y="15" width="217.1" height="140.7" fill="none" stroke="#d9d9d9" stroke-width="1"/>
<line x1="298.3" y1="154.25" x2="515.4" y2="154.25" stroke="#dfdfdf" stroke-width="0.9"/>
<text x="295.2" y="156.55" font-size="6.5" text-anchor="end" font-weight="bold" fill="#1a1a1a" stroke="#1a1a1a" stroke-width="0.2" >−4</text>
<line x1="298.3" y1="130.1" x2="515.4" y2="130.1" stroke="#dfdfdf" stroke-width="0.9"/>
<text x="295.2" y="132.4" font-size="6.5" text-anchor="end" font-weight="bold" fill="#1a1a1a" stroke="#1a1a1a" stroke-width="0.2" >−3</text>
<line x1="298.3" y1="105.95" x2="515.4" y2="105.95" stroke="#dfdfdf" stroke-width="0.9"/>
<text x="295.2" y="108.25" font-size="6.5" text-anchor="end" font-weight="bold" fill="#1a1a1a" stroke="#1a1a1a" stroke-width="0.2" >−2</text>
<line x1="298.3" y1="81.8" x2="515.4" y2="81.8" stroke="#dfdfdf" stroke-width="0.9"/>
<text x="295.2" y="84.1" font-size="6.5" text-anchor="end" font-weight="bold" fill="#1a1a1a" stroke="#1a1a1a" stroke-width="0.2" >−1</text>
<line x1="298.3" y1="57.65" x2="515.4" y2="57.65" stroke="#dfdfdf" stroke-width="0.9"/>
<text x="295.2" y="59.95" font-size="6.5" text-anchor="end" font-weight="bold" fill="#1a1a1a" stroke="#1a1a1a" stroke-width="0.2" >0</text>
<line x1="298.3" y1="33.5" x2="515.4" y2="33.5" stroke="#dfdfdf" stroke-width="0.9"/>
<text x="295.2" y="35.8" font-size="6.5" text-anchor="end" font-weight="bold" fill="#1a1a1a" stroke="#1a1a1a" stroke-width="0.2" >1</text>
<line x1="308.3" y1="15" x2="308.3" y2="155.7" stroke="#dfdfdf" stroke-width="0.9"/>
<text x="308.3" y="165" font-size="6.5" text-anchor="middle" font-weight="bold" fill="#1a1a1a" stroke="#1a1a1a" stroke-width="0.2" >0</text>
<line x1="344.9" y1="15" x2="344.9" y2="155.7" stroke="#dfdfdf" stroke-width="0.9"/>
<text x="344.9" y="165" font-size="6.5" text-anchor="middle" font-weight="bold" fill="#1a1a1a" stroke="#1a1a1a" stroke-width="0.2" >2000</text>
<line x1="381.5" y1="15" x2="381.5" y2="155.7" stroke="#dfdfdf" stroke-width="0.9"/>
<text x="381.5" y="165" font-size="6.5" text-anchor="middle" font-weight="bold" fill="#1a1a1a" stroke="#1a1a1a" stroke-width="0.2" >4000</text>
<line x1="418.1" y1="15" x2="418.1" y2="155.7" stroke="#dfdfdf" stroke-width="0.9"/>
<text x="418.1" y="165" font-size="6.5" text-anchor="middle" font-weight="bold" fill="#1a1a1a" stroke="#1a1a1a" stroke-width="0.2" >6000</text>
<line x1="454.7" y1="15" x2="454.7" y2="155.7" stroke="#dfdfdf" stroke-width="0.9"/>
<text x="454.7" y="165" font-size="6.5" text-anchor="middle" font-weight="bold" fill="#1a1a1a" stroke="#1a1a1a" stroke-width="0.2" >8000</text>
<line x1="491.3" y1="15" x2="491.3" y2="155.7" stroke="#dfdfdf" stroke-width="0.9"/>
<text x="491.3" y="165" font-size="6.5" text-anchor="middle" font-weight="bold" fill="#1a1a1a" stroke="#1a1a1a" stroke-width="0.2" >10000</text>
<text x="407.2" y="174.3" font-size="6.7" text-anchor="middle" font-weight="bold" fill="#1a1a1a" stroke="#1a1a1a" stroke-width="0.2" >Time (s)</text>
<text transform="translate(283.1 85.25) rotate(-90)" font-size="6.85" text-anchor="middle" font-weight="bold" fill="#1a1a1a" stroke="#1a1a1a" stroke-width="0.2" dominant-baseline="central">Voltage (V)</text>
<path d="M308.3 149.42 L308.3 21.43 L366.86 21.43 L366.86 21.57 L367.44 23.46 L368.02 25.18 L368.6 26.75 L369.18 28.18 L369.76 29.49 L370.34 30.68 L370.93 31.78 L371.51 32.8 L372.09 33.73 L372.67 34.6 L373.25 35.4 L373.83 36.15 L374.41 36.84 L374.99 37.49 L375.57 38.1 L376.15 38.67 L376.73 39.21 L377.31 39.72 L377.89 40.21 L378.48 40.66 L379.06 41.1 L379.64 41.51 L380.22 41.91 L380.8 42.29 L381.38 42.65 L381.96 43 L382.54 43.34 L383.12 43.66 L383.7 43.97 L384.28 44.28 L384.86 44.57 L385.44 44.85 L386.02 45.12 L386.61 45.39 L387.19 45.65 L387.77 45.9 L388.35 46.14 L388.93 46.38 L389.51 46.61 L390.09 46.84 L390.67 47.06 L391.25 47.28 L391.83 47.49 L392.41 47.69 L392.99 47.89 L393.57 48.09 L394.16 48.28 L394.74 48.47 L395.32 48.65 L395.9 48.83 L396.48 49.01 L397.06 49.18 L397.64 49.35 L398.22 49.52 L398.8 49.68 L399.38 49.84 L399.96 49.99 L400.54 50.15 L401.12 50.3 L401.71 50.44 L402.29 50.59 L402.87 50.73 L403.45 50.87 L404.03 51 L404.61 51.14 L405.19 51.27 L405.77 51.39 L406.35 51.52 L406.93 51.64 L407.51 51.76 L408.09 51.88 L408.67 52 L409.25 52.11 L409.84 52.22 L410.42 52.33 L411 52.44 L411.58 52.55 L412.16 52.65 L412.74 52.75 L413.32 52.85 L413.9 52.95 L414.48 53.05 L415.06 53.14 L415.64 53.23 L416.22 53.32 L416.8 53.41 L417.39 53.5 L417.97 53.58 L418.55 53.67 L419.13 53.75 L419.71 53.83 L420.29 53.91 L420.87 53.99 L421.45 54.06 L422.03 54.14 L422.61 54.21 L423.19 54.29 L423.77 54.36 L424.35 54.43 L424.94 54.49 L425.52 54.56 L426.1 54.63 L426.68 54.69 L427.26 54.75 L427.84 54.82 L428.42 54.88 L429 54.94 L429.58 55 L430.16 55.05 L430.74 55.11 L431.32 55.17 L431.9 55.22 L432.49 55.27 L433.07 55.33 L433.65 55.38 L434.23 55.43 L434.81 55.48 L435.39 55.53 L435.97 55.57 L436.55 55.62 L437.13 55.67 L437.71 55.71 L438.29 55.76 L438.87 55.8 L439.45 55.84 L440.03 55.89 L440.62 55.93 L441.2 55.97 L441.78 56.01 L442.36 56.05 L442.94 56.08 L443.52 56.12 L444.1 56.16 L444.68 56.19 L445.26 56.23 L445.84 56.26 L446.42 56.3 L447 56.33 L447.58 56.37 L448.17 56.4 L448.75 56.43 L449.33 56.46 L449.91 56.49 L450.49 56.52 L451.07 56.55 L451.65 56.58 L452.23 56.61 L452.81 56.64 L453.39 56.66 L453.97 56.69 L454.55 56.72 L455.13 56.74 L455.72 56.77 L456.3 56.79 L456.88 56.82 L457.46 56.84 L458.04 56.87 L458.62 56.89 L459.2 56.91 L459.78 56.94 L460.36 56.96 L460.94 56.98 L461.52 57 L462.1 57.02 L462.68 57.04 L463.27 57.06 L463.85 57.08 L464.43 57.1 L465.01 57.12 L465.59 57.14 L466.17 57.16 L466.75 57.18 L467.33 57.19 L467.91 57.21 L468.49 57.23 L469.07 57.25 L469.65 57.26 L470.23 57.28 L470.81 57.29 L471.4 57.31 L471.98 57.33 L472.56 57.34 L473.14 57.36 L473.72 57.37 L474.3 57.38 L474.88 57.4 L475.46 57.41 L476.04 57.43 L476.62 57.44 L477.2 57.45 L477.78 57.47 L478.36 57.48 L478.95 57.49 L479.53 57.5 L480.11 57.52 L480.69 57.53 L481.27 57.54 L481.85 57.55 L482.43 57.56 L483.01 57.57 L483.59 57.59 L484.17 57.6 L484.75 57.61 L485.33 57.62 L485.91 57.63 L486.5 57.64 L487.08 57.65 L487.66 57.66 L488.24 57.67 L488.82 57.68 L489.4 57.69 L489.98 57.69 L490.56 57.7 L491.14 57.71 L491.72 57.72 L492.3 57.73 L492.88 57.74 L493.46 57.75 L494.05 57.76" fill="none" stroke="#1f77b4" stroke-width="0.95" stroke-linejoin="round" stroke-linecap="butt" />
<path d="M308.3 149.42 L308.3 21.43 L363.75 21.43 L363.75 21.56 L364.4 23.59 L365.05 25.43 L365.7 27.09 L366.35 28.59 L367 29.96 L367.65 31.2 L368.31 32.34 L368.96 33.38 L369.61 34.34 L370.26 35.22 L370.91 36.03 L371.56 36.79 L372.21 37.49 L372.86 38.15 L373.51 38.76 L374.16 39.33 L374.82 39.88 L375.47 40.39 L376.12 40.87 L376.77 41.33 L377.42 41.76 L378.07 42.18 L378.72 42.57 L379.37 42.95 L380.02 43.31 L380.67 43.66 L381.32 44 L381.98 44.32 L382.63 44.63 L383.28 44.94 L383.93 45.23 L384.58 45.51 L385.23 45.79 L385.88 46.05 L386.53 46.31 L387.18 46.56 L387.83 46.81 L388.48 47.05 L389.14 47.28 L389.79 47.5 L390.44 47.72 L391.09 47.94 L391.74 48.15 L392.39 48.36 L393.04 48.56 L393.69 48.75 L394.34 48.94 L394.99 49.13 L395.65 49.31 L396.3 49.49 L396.95 49.67 L397.6 49.84 L398.25 50.01 L398.9 50.17 L399.55 50.33 L400.2 50.49 L400.85 50.64 L401.5 50.8 L402.15 50.94 L402.81 51.09 L403.46 51.23 L404.11 51.37 L404.76 51.5 L405.41 51.64 L406.06 51.77 L406.71 51.89 L407.36 52.02 L408.01 52.14 L408.66 52.26 L409.32 52.38 L409.97 52.49 L410.62 52.61 L411.27 52.72 L411.92 52.82 L412.57 52.93 L413.22 53.03 L413.87 53.14 L414.52 53.23 L415.17 53.33 L415.82 53.43 L416.48 53.52 L417.13 53.61 L417.78 53.7 L418.43 53.79 L419.08 53.88 L419.73 53.96 L420.38 54.04 L421.03 54.13 L421.68 54.21 L422.33 54.28 L422.99 54.36 L423.64 54.43 L424.29 54.51 L424.94 54.58 L425.59 54.65 L426.24 54.72 L426.89 54.79 L427.54 54.85 L428.19 54.92 L428.84 54.98 L429.49 55.04 L430.15 55.11 L430.8 55.17 L431.45 55.22 L432.1 55.28 L432.75 55.34 L433.4 55.39 L434.05 55.45 L434.7 55.5 L435.35 55.55 L436 55.6 L436.65 55.65 L437.31 55.7 L437.96 55.75 L438.61 55.8 L439.26 55.84 L439.91 55.89 L440.56 55.93 L441.21 55.98 L441.86 56.02 L442.51 56.06 L443.16 56.1 L443.82 56.14 L444.47 56.18 L445.12 56.22 L445.77 56.26 L446.42 56.29 L447.07 56.33 L447.72 56.37 L448.37 56.4 L449.02 56.44 L449.67 56.47 L450.32 56.5 L450.98 56.53 L451.63 56.57 L452.28 56.6 L452.93 56.63 L453.58 56.66 L454.23 56.69 L454.88 56.72 L455.53 56.74 L456.18 56.77 L456.83 56.8 L457.49 56.82 L458.14 56.85 L458.79 56.88 L459.44 56.9 L460.09 56.93 L460.74 56.95 L461.39 56.97 L462.04 57 L462.69 57.02 L463.34 57.04 L463.99 57.06 L464.65 57.08 L465.3 57.11 L465.95 57.13 L466.6 57.15 L467.25 57.17 L467.9 57.19 L468.55 57.21 L469.2 57.22 L469.85 57.24 L470.5 57.26 L471.15 57.28 L471.81 57.3 L472.46 57.31 L473.11 57.33 L473.76 57.35 L474.41 57.36 L475.06 57.38 L475.71 57.39 L476.36 57.41 L477.01 57.42 L477.66 57.44 L478.32 57.45 L478.97 57.47 L479.62 57.48 L480.27 57.49 L480.92 57.51 L481.57 57.52 L482.22 57.53 L482.87 57.55 L483.52 57.56 L484.17 57.57 L484.82 57.58 L485.48 57.59 L486.13 57.61 L486.78 57.62 L487.43 57.63 L488.08 57.64 L488.73 57.65 L489.38 57.66 L490.03 57.67 L490.68 57.68 L491.33 57.69 L491.99 57.7 L492.64 57.71 L493.29 57.72 L493.94 57.73 L494.59 57.74 L495.24 57.75 L495.89 57.76 L496.54 57.77 L497.19 57.78 L497.84 57.78 L498.49 57.79 L499.15 57.8 L499.8 57.81 L500.45 57.82 L501.1 57.82 L501.75 57.83 L502.4 57.84 L503.05 57.85 L503.7 57.85 L504.35 57.86 L505 57.87 L505.66 57.88 L506.31 57.88" fill="none" stroke="#ff7f0e" stroke-width="0.95" stroke-linejoin="round" stroke-linecap="butt" />
<path d="M308.3 149.42 L308.3 21.43 L355.15 21.43 L355.15 21.54 L355.84 23.54 L356.53 25.35 L357.22 26.99 L357.91 28.48 L358.6 29.84 L359.29 31.07 L359.98 32.2 L360.67 33.24 L361.36 34.19 L362.05 35.07 L362.74 35.88 L363.43 36.63 L364.12 37.34 L364.81 37.99 L365.5 38.6 L366.19 39.18 L366.88 39.72 L367.57 40.23 L368.26 40.71 L368.95 41.17 L369.64 41.6 L370.33 42.02 L371.02 42.42 L371.71 42.79 L372.4 43.16 L373.09 43.51 L373.78 43.84 L374.47 44.17 L375.16 44.48 L375.85 44.78 L376.54 45.07 L377.24 45.36 L377.93 45.63 L378.62 45.9 L379.31 46.15 L380 46.41 L380.69 46.65 L381.38 46.89 L382.07 47.12 L382.76 47.35 L383.45 47.57 L384.14 47.79 L384.83 48 L385.52 48.2 L386.21 48.4 L386.9 48.6 L387.59 48.79 L388.28 48.98 L388.97 49.16 L389.66 49.34 L390.35 49.52 L391.04 49.69 L391.73 49.86 L392.42 50.02 L393.11 50.18 L393.8 50.34 L394.49 50.5 L395.18 50.65 L395.87 50.79 L396.56 50.94 L397.25 51.08 L397.94 51.22 L398.63 51.36 L399.32 51.49 L400.01 51.62 L400.7 51.75 L401.39 51.88 L402.08 52 L402.77 52.12 L403.46 52.24 L404.15 52.35 L404.84 52.47 L405.53 52.58 L406.22 52.69 L406.91 52.8 L407.6 52.9 L408.29 53 L408.99 53.1 L409.68 53.2 L410.37 53.3 L411.06 53.39 L411.75 53.49 L412.44 53.58 L413.13 53.67 L413.82 53.75 L414.51 53.84 L415.2 53.92 L415.89 54.01 L416.58 54.09 L417.27 54.16 L417.96 54.24 L418.65 54.32 L419.34 54.39 L420.03 54.47 L420.72 54.54 L421.41 54.61 L422.1 54.68 L422.79 54.74 L423.48 54.81 L424.17 54.87 L424.86 54.94 L425.55 55 L426.24 55.06 L426.93 55.12 L427.62 55.18 L428.31 55.24 L429 55.29 L429.69 55.35 L430.38 55.4 L431.07 55.46 L431.76 55.51 L432.45 55.56 L433.14 55.61 L433.83 55.66 L434.52 55.71 L435.21 55.75 L435.9 55.8 L436.59 55.85 L437.28 55.89 L437.97 55.93 L438.66 55.98 L439.35 56.02 L440.04 56.06 L440.74 56.1 L441.43 56.14 L442.12 56.18 L442.81 56.22 L443.5 56.25 L444.19 56.29 L444.88 56.33 L445.57 56.36 L446.26 56.4 L446.95 56.43 L447.64 56.46 L448.33 56.49 L449.02 56.53 L449.71 56.56 L450.4 56.59 L451.09 56.62 L451.78 56.65 L452.47 56.68 L453.16 56.71 L453.85 56.73 L454.54 56.76 L455.23 56.79 L455.92 56.81 L456.61 56.84 L457.3 56.87 L457.99 56.89 L458.68 56.92 L459.37 56.94 L460.06 56.96 L460.75 56.99 L461.44 57.01 L462.13 57.03 L462.82 57.05 L463.51 57.07 L464.2 57.09 L464.89 57.12 L465.58 57.14 L466.27 57.16 L466.96 57.17 L467.65 57.19 L468.34 57.21 L469.03 57.23 L469.72 57.25 L470.41 57.27 L471.1 57.28 L471.8 57.3 L472.49 57.32 L473.18 57.33 L473.87 57.35 L474.56 57.37 L475.25 57.38 L475.94 57.4 L476.63 57.41 L477.32 57.43 L478.01 57.44 L478.7 57.46 L479.39 57.47 L480.08 57.48 L480.77 57.5 L481.46 57.51 L482.15 57.52 L482.84 57.54 L483.53 57.55 L484.22 57.56 L484.91 57.57 L485.6 57.59 L486.29 57.6 L486.98 57.61 L487.67 57.62 L488.36 57.63 L489.05 57.64 L489.74 57.65 L490.43 57.66 L491.12 57.67 L491.81 57.68 L492.5 57.69 L493.19 57.7 L493.88 57.71 L494.57 57.72 L495.26 57.73 L495.95 57.74 L496.64 57.75 L497.33 57.76 L498.02 57.77 L498.71 57.78 L499.4 57.79 L500.09 57.79 L500.78 57.8 L501.47 57.81 L502.16 57.82 L502.85 57.83 L503.55 57.83 L504.24 57.84 L504.93 57.85 L505.62 57.86 L506.31 57.86" fill="none" stroke="#2ca02c" stroke-width="0.95" stroke-linejoin="round" stroke-linecap="butt" />
<path d="M308.3 149.42 L308.3 21.43 L347.46 21.43 L347.46 21.52 L348.19 23.49 L348.91 25.27 L349.64 26.88 L350.36 28.35 L351.09 29.69 L351.81 30.92 L352.54 32.04 L353.26 33.06 L353.99 34.01 L354.72 34.89 L355.44 35.7 L356.17 36.45 L356.89 37.15 L357.62 37.8 L358.34 38.41 L359.07 38.99 L359.79 39.53 L360.52 40.04 L361.24 40.52 L361.97 40.98 L362.69 41.41 L363.42 41.83 L364.14 42.23 L364.87 42.61 L365.59 42.97 L366.32 43.32 L367.05 43.65 L367.77 43.98 L368.5 44.29 L369.22 44.59 L369.95 44.88 L370.67 45.17 L371.4 45.44 L372.12 45.71 L372.85 45.97 L373.57 46.22 L374.3 46.46 L375.02 46.7 L375.75 46.93 L376.47 47.16 L377.2 47.38 L377.93 47.6 L378.65 47.81 L379.38 48.01 L380.1 48.22 L380.83 48.41 L381.55 48.6 L382.28 48.79 L383 48.98 L383.73 49.16 L384.45 49.33 L385.18 49.5 L385.9 49.67 L386.63 49.84 L387.35 50 L388.08 50.16 L388.8 50.31 L389.53 50.47 L390.26 50.61 L390.98 50.76 L391.71 50.9 L392.43 51.04 L393.16 51.18 L393.88 51.32 L394.61 51.45 L395.33 51.58 L396.06 51.7 L396.78 51.83 L397.51 51.95 L398.23 52.07 L398.96 52.19 L399.68 52.3 L400.41 52.41 L401.14 52.52 L401.86 52.63 L402.59 52.74 L403.31 52.84 L404.04 52.94 L404.76 53.04 L405.49 53.14 L406.21 53.24 L406.94 53.33 L407.66 53.42 L408.39 53.51 L409.11 53.6 L409.84 53.69 L410.56 53.77 L411.29 53.86 L412.02 53.94 L412.74 54.02 L413.47 54.1 L414.19 54.18 L414.92 54.25 L415.64 54.33 L416.37 54.4 L417.09 54.47 L417.82 54.54 L418.54 54.61 L419.27 54.68 L419.99 54.74 L420.72 54.81 L421.44 54.87 L422.17 54.93 L422.89 54.99 L423.62 55.05 L424.35 55.11 L425.07 55.17 L425.8 55.23 L426.52 55.28 L427.25 55.34 L427.97 55.39 L428.7 55.44 L429.42 55.49 L430.15 55.54 L430.87 55.59 L431.6 55.64 L432.32 55.69 L433.05 55.74 L433.77 55.78 L434.5 55.83 L435.23 55.87 L435.95 55.91 L436.68 55.96 L437.4 56 L438.13 56.04 L438.85 56.08 L439.58 56.12 L440.3 56.16 L441.03 56.19 L441.75 56.23 L442.48 56.27 L443.2 56.3 L443.93 56.34 L444.65 56.37 L445.38 56.41 L446.1 56.44 L446.83 56.47 L447.56 56.5 L448.28 56.53 L449.01 56.57 L449.73 56.6 L450.46 56.63 L451.18 56.65 L451.91 56.68 L452.63 56.71 L453.36 56.74 L454.08 56.76 L454.81 56.79 L455.53 56.82 L456.26 56.84 L456.98 56.87 L457.71 56.89 L458.44 56.92 L459.16 56.94 L459.89 56.96 L460.61 56.99 L461.34 57.01 L462.06 57.03 L462.79 57.05 L463.51 57.07 L464.24 57.09 L464.96 57.11 L465.69 57.13 L466.41 57.15 L467.14 57.17 L467.86 57.19 L468.59 57.21 L469.31 57.23 L470.04 57.25 L470.77 57.26 L471.49 57.28 L472.22 57.3 L472.94 57.31 L473.67 57.33 L474.39 57.35 L475.12 57.36 L475.84 57.38 L476.57 57.39 L477.29 57.41 L478.02 57.42 L478.74 57.44 L479.47 57.45 L480.19 57.47 L480.92 57.48 L481.65 57.49 L482.37 57.51 L483.1 57.52 L483.82 57.53 L484.55 57.55 L485.27 57.56 L486 57.57 L486.72 57.58 L487.45 57.59 L488.17 57.6 L488.9 57.62 L489.62 57.63 L490.35 57.64 L491.07 57.65 L491.8 57.66 L492.53 57.67 L493.25 57.68 L493.98 57.69 L494.7 57.7 L495.43 57.71 L496.15 57.72 L496.88 57.73 L497.6 57.74 L498.33 57.75 L499.05 57.76 L499.78 57.77 L500.5 57.77 L501.23 57.78 L501.95 57.79 L502.68 57.8 L503.4 57.81 L504.13 57.82 L504.86 57.82 L505.58 57.83 L506.31 57.84" fill="none" stroke="#d62728" stroke-width="0.95" stroke-linejoin="round" stroke-linecap="butt" />
<path d="M308.3 149.42 L308.3 21.43 L340.69 21.43 L340.69 21.5 L341.45 23.43 L342.2 25.18 L342.96 26.76 L343.72 28.21 L344.47 29.53 L345.23 30.74 L345.98 31.85 L346.74 32.87 L347.5 33.81 L348.25 34.68 L349.01 35.49 L349.77 36.23 L350.52 36.93 L351.28 37.58 L352.03 38.2 L352.79 38.77 L353.55 39.31 L354.3 39.82 L355.06 40.3 L355.82 40.76 L356.57 41.2 L357.33 41.61 L358.08 42.01 L358.84 42.39 L359.6 42.75 L360.35 43.1 L361.11 43.44 L361.87 43.76 L362.62 44.07 L363.38 44.38 L364.13 44.67 L364.89 44.95 L365.65 45.23 L366.4 45.49 L367.16 45.75 L367.92 46 L368.67 46.25 L369.43 46.49 L370.18 46.72 L370.94 46.95 L371.7 47.17 L372.45 47.38 L373.21 47.59 L373.97 47.8 L374.72 48 L375.48 48.2 L376.23 48.39 L376.99 48.58 L377.75 48.76 L378.5 48.94 L379.26 49.12 L380.02 49.29 L380.77 49.46 L381.53 49.63 L382.28 49.79 L383.04 49.95 L383.8 50.1 L384.55 50.26 L385.31 50.41 L386.06 50.55 L386.82 50.7 L387.58 50.84 L388.33 50.98 L389.09 51.11 L389.85 51.24 L390.6 51.37 L391.36 51.5 L392.11 51.63 L392.87 51.75 L393.63 51.87 L394.38 51.99 L395.14 52.1 L395.9 52.22 L396.65 52.33 L397.41 52.44 L398.16 52.55 L398.92 52.65 L399.68 52.75 L400.43 52.86 L401.19 52.95 L401.95 53.05 L402.7 53.15 L403.46 53.24 L404.21 53.33 L404.97 53.42 L405.73 53.51 L406.48 53.6 L407.24 53.68 L408 53.77 L408.75 53.85 L409.51 53.93 L410.26 54.01 L411.02 54.08 L411.78 54.16 L412.53 54.23 L413.29 54.31 L414.05 54.38 L414.8 54.45 L415.56 54.52 L416.31 54.59 L417.07 54.65 L417.83 54.72 L418.58 54.78 L419.34 54.84 L420.1 54.91 L420.85 54.97 L421.61 55.02 L422.36 55.08 L423.12 55.14 L423.88 55.2 L424.63 55.25 L425.39 55.3 L426.15 55.36 L426.9 55.41 L427.66 55.46 L428.41 55.51 L429.17 55.56 L429.93 55.61 L430.68 55.65 L431.44 55.7 L432.2 55.75 L432.95 55.79 L433.71 55.83 L434.46 55.88 L435.22 55.92 L435.98 55.96 L436.73 56 L437.49 56.04 L438.25 56.08 L439 56.12 L439.76 56.16 L440.51 56.19 L441.27 56.23 L442.03 56.27 L442.78 56.3 L443.54 56.34 L444.29 56.37 L445.05 56.4 L445.81 56.43 L446.56 56.47 L447.32 56.5 L448.08 56.53 L448.83 56.56 L449.59 56.59 L450.34 56.62 L451.1 56.65 L451.86 56.67 L452.61 56.7 L453.37 56.73 L454.13 56.76 L454.88 56.78 L455.64 56.81 L456.39 56.83 L457.15 56.86 L457.91 56.88 L458.66 56.9 L459.42 56.93 L460.18 56.95 L460.93 56.97 L461.69 57 L462.44 57.02 L463.2 57.04 L463.96 57.06 L464.71 57.08 L465.47 57.1 L466.23 57.12 L466.98 57.14 L467.74 57.16 L468.49 57.18 L469.25 57.2 L470.01 57.22 L470.76 57.23 L471.52 57.25 L472.28 57.27 L473.03 57.29 L473.79 57.3 L474.54 57.32 L475.3 57.33 L476.06 57.35 L476.81 57.37 L477.57 57.38 L478.33 57.4 L479.08 57.41 L479.84 57.43 L480.59 57.44 L481.35 57.45 L482.11 57.47 L482.86 57.48 L483.62 57.5 L484.38 57.51 L485.13 57.52 L485.89 57.53 L486.64 57.55 L487.4 57.56 L488.16 57.57 L488.91 57.58 L489.67 57.59 L490.43 57.61 L491.18 57.62 L491.94 57.63 L492.69 57.64 L493.45 57.65 L494.21 57.66 L494.96 57.67 L495.72 57.68 L496.47 57.69 L497.23 57.7 L497.99 57.71 L498.74 57.72 L499.5 57.73 L500.26 57.74 L501.01 57.75 L501.77 57.76 L502.52 57.77 L503.28 57.78 L504.04 57.78 L504.79 57.79 L505.55 57.8 L506.31 57.81" fill="none" stroke="#9467bd" stroke-width="0.95" stroke-linejoin="round" stroke-linecap="butt" />
<path d="M308.3 149.42 L308.3 21.43 L337.76 21.43 L337.76 21.5 L338.53 23.38 L339.3 25.09 L340.07 26.65 L340.84 28.08 L341.61 29.38 L342.38 30.57 L343.15 31.67 L343.92 32.68 L344.69 33.61 L345.46 34.48 L346.23 35.28 L347 36.03 L347.77 36.72 L348.54 37.37 L349.31 37.98 L350.08 38.56 L350.85 39.1 L351.62 39.61 L352.39 40.09 L353.16 40.55 L353.92 40.98 L354.69 41.4 L355.46 41.8 L356.23 42.18 L357 42.54 L357.77 42.89 L358.54 43.23 L359.31 43.55 L360.08 43.86 L360.85 44.16 L361.62 44.46 L362.39 44.74 L363.16 45.01 L363.93 45.28 L364.7 45.54 L365.47 45.79 L366.24 46.04 L367.01 46.27 L367.78 46.51 L368.55 46.73 L369.32 46.95 L370.09 47.17 L370.86 47.38 L371.63 47.59 L372.4 47.79 L373.16 47.98 L373.93 48.18 L374.7 48.37 L375.47 48.55 L376.24 48.73 L377.01 48.91 L377.78 49.08 L378.55 49.25 L379.32 49.42 L380.09 49.58 L380.86 49.74 L381.63 49.9 L382.4 50.05 L383.17 50.2 L383.94 50.35 L384.71 50.49 L385.48 50.63 L386.25 50.77 L387.02 50.91 L387.79 51.04 L388.56 51.17 L389.33 51.3 L390.1 51.43 L390.87 51.55 L391.64 51.67 L392.4 51.79 L393.17 51.91 L393.94 52.02 L394.71 52.14 L395.48 52.25 L396.25 52.36 L397.02 52.46 L397.79 52.57 L398.56 52.67 L399.33 52.77 L400.1 52.87 L400.87 52.96 L401.64 53.06 L402.41 53.15 L403.18 53.24 L403.95 53.33 L404.72 53.42 L405.49 53.51 L406.26 53.59 L407.03 53.68 L407.8 53.76 L408.57 53.84 L409.34 53.92 L410.11 53.99 L410.88 54.07 L411.64 54.14 L412.41 54.22 L413.18 54.29 L413.95 54.36 L414.72 54.43 L415.49 54.5 L416.26 54.56 L417.03 54.63 L417.8 54.69 L418.57 54.76 L419.34 54.82 L420.11 54.88 L420.88 54.94 L421.65 55 L422.42 55.05 L423.19 55.11 L423.96 55.16 L424.73 55.22 L425.5 55.27 L426.27 55.32 L427.04 55.38 L427.81 55.43 L428.58 55.48 L429.35 55.52 L430.12 55.57 L430.88 55.62 L431.65 55.67 L432.42 55.71 L433.19 55.75 L433.96 55.8 L434.73 55.84 L435.5 55.88 L436.27 55.92 L437.04 55.96 L437.81 56 L438.58 56.04 L439.35 56.08 L440.12 56.12 L440.89 56.16 L441.66 56.19 L442.43 56.23 L443.2 56.26 L443.97 56.3 L444.74 56.33 L445.51 56.36 L446.28 56.4 L447.05 56.43 L447.82 56.46 L448.59 56.49 L449.36 56.52 L450.12 56.55 L450.89 56.58 L451.66 56.61 L452.43 56.64 L453.2 56.67 L453.97 56.69 L454.74 56.72 L455.51 56.75 L456.28 56.77 L457.05 56.8 L457.82 56.82 L458.59 56.85 L459.36 56.87 L460.13 56.89 L460.9 56.92 L461.67 56.94 L462.44 56.96 L463.21 56.98 L463.98 57.01 L464.75 57.03 L465.52 57.05 L466.29 57.07 L467.06 57.09 L467.83 57.11 L468.6 57.13 L469.37 57.15 L470.13 57.17 L470.9 57.19 L471.67 57.2 L472.44 57.22 L473.21 57.24 L473.98 57.26 L474.75 57.27 L475.52 57.29 L476.29 57.31 L477.06 57.32 L477.83 57.34 L478.6 57.35 L479.37 57.37 L480.14 57.38 L480.91 57.4 L481.68 57.41 L482.45 57.43 L483.22 57.44 L483.99 57.46 L484.76 57.47 L485.53 57.48 L486.3 57.5 L487.07 57.51 L487.84 57.52 L488.61 57.54 L489.37 57.55 L490.14 57.56 L490.91 57.57 L491.68 57.58 L492.45 57.6 L493.22 57.61 L493.99 57.62 L494.76 57.63 L495.53 57.64 L496.3 57.65 L497.07 57.66 L497.84 57.67 L498.61 57.68 L499.38 57.69 L500.15 57.7 L500.92 57.71 L501.69 57.72 L502.46 57.73 L503.23 57.74 L504 57.75 L504.77 57.76 L505.54 57.77 L506.31 57.78" fill="none" stroke="#8c564b" stroke-width="0.95" stroke-linejoin="round" stroke-linecap="butt" />
<rect x="449.6" y="94.3" width="63" height="58.7" fill="#ffffff" fill-opacity="0.85" stroke="#dcdcdc" stroke-width="0.8" rx="1"/>
<line x1="452" y1="99.4" x2="464.9" y2="99.4" stroke="#1f77b4" stroke-width="1.3" stroke-opacity="0.75"/>
<text x="466.9" y="101.83" font-size="6.75" text-anchor="start" font-weight="bold" fill="#1a1a1a" stroke="#1a1a1a" stroke-width="0.2" >Cycle 20th</text>
<line x1="452" y1="108.7" x2="464.9" y2="108.7" stroke="#ff7f0e" stroke-width="1.3" stroke-opacity="0.75"/>
<text x="466.9" y="111.13" font-size="6.75" text-anchor="start" font-weight="bold" fill="#1a1a1a" stroke="#1a1a1a" stroke-width="0.2" >Cycle 50th</text>
<line x1="452" y1="118" x2="464.9" y2="118" stroke="#2ca02c" stroke-width="1.3" stroke-opacity="0.75"/>
<text x="466.9" y="120.43" font-size="6.75" text-anchor="start" font-weight="bold" fill="#1a1a1a" stroke="#1a1a1a" stroke-width="0.2" >Cycle 80th</text>
<line x1="452" y1="127.3" x2="464.9" y2="127.3" stroke="#d62728" stroke-width="1.3" stroke-opacity="0.75"/>
<text x="466.9" y="129.73" font-size="6.75" text-anchor="start" font-weight="bold" fill="#1a1a1a" stroke="#1a1a1a" stroke-width="0.2" >Cycle 110th</text>
<line x1="452" y1="136.6" x2="464.9" y2="136.6" stroke="#9467bd" stroke-width="1.3" stroke-opacity="0.75"/>
<text x="466.9" y="139.03" font-size="6.75" text-anchor="start" font-weight="bold" fill="#1a1a1a" stroke="#1a1a1a" stroke-width="0.2" >Cycle 140th</text>
<line x1="452" y1="145.9" x2="464.9" y2="145.9" stroke="#8c564b" stroke-width="1.3" stroke-opacity="0.75"/>
<text x="466.9" y="148.33" font-size="6.75" text-anchor="start" font-weight="bold" fill="#1a1a1a" stroke="#1a1a1a" stroke-width="0.2" >Cycle 170th</text>
<text x="263.6" y="10.2" font-size="10.0" text-anchor="start" font-weight="bold" fill="#1a1a1a" stroke="#1a1a1a" stroke-width="0.2" >B</text>
<rect x="28.3" y="211.5" width="210.3" height="134.8" fill="none" stroke="#d9d9d9" stroke-width="1"/>
<line x1="28.3" y1="338.61" x2="238.6" y2="338.61" stroke="#dfdfdf" stroke-width="0.9"/>
<text x="23.5" y="340.91" font-size="6.5" text-anchor="end" font-weight="bold" fill="#1a1a1a" stroke="#1a1a1a" stroke-width="0.2" >2.50</text>
<line x1="28.3" y1="320.89" x2="238.6" y2="320.89" stroke="#dfdfdf" stroke-width="0.9"/>
<text x="23.5" y="323.19" font-size="6.5" text-anchor="end" font-weight="bold" fill="#1a1a1a" stroke="#1a1a1a" stroke-width="0.2" >2.75</text>
<line x1="28.3" y1="303.18" x2="238.6" y2="303.18" stroke="#dfdfdf" stroke-width="0.9"/>
<text x="23.5" y="305.48" font-size="6.5" text-anchor="end" font-weight="bold" fill="#1a1a1a" stroke="#1a1a1a" stroke-width="0.2" >3.00</text>
<line x1="28.3" y1="285.46" x2="238.6" y2="285.46" stroke="#dfdfdf" stroke-width="0.9"/>
<text x="23.5" y="287.76" font-size="6.5" text-anchor="end" font-weight="bold" fill="#1a1a1a" stroke="#1a1a1a" stroke-width="0.2" >3.25</text>
<line x1="28.3" y1="267.75" x2="238.6" y2="267.75" stroke="#dfdfdf" stroke-width="0.9"/>
<text x="23.5" y="270.05" font-size="6.5" text-anchor="end" font-weight="bold" fill="#1a1a1a" stroke="#1a1a1a" stroke-width="0.2" >3.50</text>
<line x1="28.3" y1="250.03" x2="238.6" y2="250.03" stroke="#dfdfdf" stroke-width="0.9"/>
<text x="23.5" y="252.33" font-size="6.5" text-anchor="end" font-weight="bold" fill="#1a1a1a" stroke="#1a1a1a" stroke-width="0.2" >3.75</text>
<line x1="28.3" y1="232.31" x2="238.6" y2="232.31" stroke="#dfdfdf" stroke-width="0.9"/>
<text x="23.5" y="234.62" font-size="6.5" text-anchor="end" font-weight="bold" fill="#1a1a1a" stroke="#1a1a1a" stroke-width="0.2" >4.00</text>
<line x1="28.3" y1="214.6" x2="238.6" y2="214.6" stroke="#dfdfdf" stroke-width="0.9"/>
<text x="23.5" y="216.9" font-size="6.5" text-anchor="end" font-weight="bold" fill="#1a1a1a" stroke="#1a1a1a" stroke-width="0.2" >4.25</text>
<line x1="38.3" y1="211.5" x2="38.3" y2="346.3" stroke="#dfdfdf" stroke-width="0.9"/>
<text x="38.3" y="355.6" font-size="6.5" text-anchor="middle" font-weight="bold" fill="#1a1a1a" stroke="#1a1a1a" stroke-width="0.2" >0</text>
<line x1="65.31" y1="211.5" x2="65.31" y2="346.3" stroke="#dfdfdf" stroke-width="0.9"/>
<text x="65.31" y="355.6" font-size="6.5" text-anchor="middle" font-weight="bold" fill="#1a1a1a" stroke="#1a1a1a" stroke-width="0.2" >500</text>
<line x1="92.33" y1="211.5" x2="92.33" y2="346.3" stroke="#dfdfdf" stroke-width="0.9"/>
<text x="92.33" y="355.6" font-size="6.5" text-anchor="middle" font-weight="bold" fill="#1a1a1a" stroke="#1a1a1a" stroke-width="0.2" >1000</text>
<line x1="119.34" y1="211.5" x2="119.34" y2="346.3" stroke="#dfdfdf" stroke-width="0.9"/>
<text x="119.34" y="355.6" font-size="6.5" text-anchor="middle" font-weight="bold" fill="#1a1a1a" stroke="#1a1a1a" stroke-width="0.2" >1500</text>
<line x1="146.36" y1="211.5" x2="146.36" y2="346.3" stroke="#dfdfdf" stroke-width="0.9"/>
<text x="146.36" y="355.6" font-size="6.5" text-anchor="middle" font-weight="bold" fill="#1a1a1a" stroke="#1a1a1a" stroke-width="0.2" >200</text>
<line x1="173.38" y1="211.5" x2="173.38" y2="346.3" stroke="#dfdfdf" stroke-width="0.9"/>
<text x="173.38" y="355.6" font-size="6.5" text-anchor="middle" font-weight="bold" fill="#1a1a1a" stroke="#1a1a1a" stroke-width="0.2" >2500</text>
<line x1="200.39" y1="211.5" x2="200.39" y2="346.3" stroke="#dfdfdf" stroke-width="0.9"/>
<text x="200.39" y="355.6" font-size="6.5" text-anchor="middle" font-weight="bold" fill="#1a1a1a" stroke="#1a1a1a" stroke-width="0.2" >3000</text>
<line x1="227.41" y1="211.5" x2="227.41" y2="346.3" stroke="#dfdfdf" stroke-width="0.9"/>
<text x="227.41" y="355.6" font-size="6.5" text-anchor="middle" font-weight="bold" fill="#1a1a1a" stroke="#1a1a1a" stroke-width="0.2" >3500</text>
<text x="131" y="365.4" font-size="6.7" text-anchor="middle" font-weight="bold" fill="#1a1a1a" stroke="#1a1a1a" stroke-width="0.2" >Time (s)</text>
<text transform="translate(6.95 279.5) rotate(-90)" font-size="6.85" text-anchor="middle" font-weight="bold" fill="#1a1a1a" stroke="#1a1a1a" stroke-width="0.2" dominant-baseline="central">Voltage (V)</text>
<path d="M38.3 218.14 L38.46 226.65 L38.62 233.26 L39.72 234.1 L40.82 235.1 L41.93 236.14 L43.03 237 L44.13 237.73 L45.23 238.41 L46.33 239.04 L47.43 239.63 L48.53 240.18 L49.63 240.71 L50.73 241.22 L51.83 241.71 L52.93 242.19 L54.03 242.65 L55.13 243.09 L56.23 243.52 L57.33 243.94 L58.43 244.36 L59.53 244.76 L60.63 245.16 L61.73 245.56 L62.83 245.95 L63.93 246.34 L65.03 246.74 L66.13 247.14 L67.23 247.53 L68.33 247.93 L69.43 248.33 L70.53 248.72 L71.63 249.12 L72.73 249.51 L73.83 249.9 L74.93 250.28 L76.03 250.67 L77.13 251.05 L78.24 251.42 L79.34 251.8 L80.44 252.16 L81.54 252.52 L82.64 252.88 L83.74 253.23 L84.84 253.57 L85.94 253.91 L87.04 254.24 L88.14 254.56 L89.24 254.87 L90.34 255.17 L91.44 255.47 L92.54 255.75 L93.64 256.03 L94.74 256.3 L95.84 256.57 L96.94 256.84 L98.04 257.1 L99.14 257.35 L100.24 257.6 L101.34 257.85 L102.44 258.1 L103.54 258.33 L104.64 258.57 L105.74 258.8 L106.84 259.03 L107.94 259.25 L109.04 259.47 L110.14 259.69 L111.24 259.9 L112.34 260.11 L113.45 260.32 L114.55 260.52 L115.65 260.72 L116.75 260.92 L117.85 261.11 L118.95 261.3 L120.05 261.49 L121.15 261.67 L122.25 261.85 L123.35 262.02 L124.45 262.19 L125.55 262.36 L126.65 262.53 L127.75 262.69 L128.85 262.85 L129.95 263 L131.05 263.16 L132.15 263.31 L133.25 263.46 L134.35 263.61 L135.45 263.76 L136.55 263.91 L137.65 264.06 L138.75 264.21 L139.85 264.36 L140.95 264.51 L142.05 264.67 L143.15 264.82 L144.25 264.97 L145.35 265.13 L146.45 265.29 L147.55 265.45 L148.66 265.61 L149.76 265.77 L150.86 265.94 L151.96 266.1 L153.06 266.26 L154.16 266.43 L155.26 266.6 L156.36 266.76 L157.46 266.93 L158.56 267.1 L159.66 267.26 L160.76 267.43 L161.86 267.6 L162.96 267.77 L164.06 267.94 L165.16 268.12 L166.26 268.29 L167.36 268.47 L168.46 268.65 L169.56 268.83 L170.66 269.01 L171.76 269.19 L172.86 269.38 L173.96 269.58 L175.06 269.78 L176.16 269.98 L177.26 270.2 L178.36 270.42 L179.46 270.66 L180.56 270.9 L181.66 271.16 L182.76 271.44 L183.86 271.73 L184.97 272.04 L186.07 272.38 L187.17 272.74 L188.27 273.13 L189.37 273.56 L190.47 274.03 L191.57 274.55 L192.67 275.12 L193.77 275.75 L194.87 276.45 L195.97 277.23 L197.07 278.1 L198.17 279.08 L199.27 280.18 L200.37 281.42 L201.47 282.81 L202.57 284.39 L203.67 286.19 L204.77 288.22 L205.87 290.53 L206.97 293.15 L208.07 296.14 L209.17 299.55 L210.27 303.43 L211.37 307.85 L212.47 312.9 L213.57 318.66 L213.57 318.66 L213.66 319.13 L213.74 319.6 L213.82 320.08 L213.91 320.56 L213.99 321.05 L214.07 321.54 L214.16 322.03 L214.24 322.54 L214.32 323.04 L214.4 323.55 L214.49 324.07 L214.57 324.59 L214.65 325.12 L214.74 325.65 L214.82 326.19 L214.9 326.73 L214.99 327.28 L215.07 327.84 L215.15 328.4 L215.24 328.96 L215.32 329.53 L215.4 330.11 L215.49 330.69 L215.57 331.28 L215.65 331.88 L215.73 332.48 L215.82 333.09 L215.9 333.7 L215.98 334.32 L216.07 334.95 L216.15 335.58 L216.23 336.22 L216.32 336.86 L216.4 337.51 L216.48 338.17 L216.57 338.84 L216.65 339.51 L216.73 340.19 L216.82 340.87 L217.03 338.48 L217.25 336.18 L217.47 333.97 L217.69 331.84 L217.9 329.79 L218.12 327.82 L218.34 325.92 L218.56 324.1 L218.78 322.34 L218.99 320.65 L219.21 319.02 L219.43 317.45 L219.65 315.95 L219.87 314.5 L220.08 313.1 L220.3 311.76 L220.52 310.47 L220.74 309.22 L220.96 308.03 L221.17 306.87 L221.39 305.77 L221.61 304.7 L221.83 303.67 L222.05 302.69 L222.26 301.74 L222.48 300.82 L222.7 299.94 L222.92 299.09 L223.14 298.28 L223.35 297.5 L223.57 296.74 L223.79 296.01 L224.01 295.32 L224.23 294.64 L224.44 294 L224.66 293.37 L224.88 292.77 L225.1 292.2 L225.32 291.64 L225.53 291.11 L225.75 290.59 L225.97 290.1 L226.19 289.62 L226.4 289.16 L226.62 288.72 L226.84 288.3 L227.06 287.89 L227.28 287.5 L227.49 287.12 L227.71 286.76 L227.93 286.41 L228.15 286.07 L228.37 285.75 L228.58 285.43 L228.8 285.13 L229.02 284.85 L229.24 284.57 L229.46 284.3 L229.67 284.04" fill="none" stroke="#1f77b4" stroke-width="0.95" stroke-linejoin="round" stroke-linecap="butt" />
<path d="M38.3 218.14 L38.46 226.65 L38.62 233.29 L39.68 234.19 L40.75 235.22 L41.81 236.28 L42.87 237.17 L43.93 237.93 L44.99 238.62 L46.05 239.26 L47.11 239.85 L48.17 240.41 L49.23 240.94 L50.29 241.45 L51.35 241.94 L52.41 242.41 L53.47 242.87 L54.53 243.31 L55.59 243.74 L56.65 244.16 L57.71 244.57 L58.77 244.97 L59.84 245.36 L60.9 245.75 L61.96 246.14 L63.02 246.53 L64.08 246.91 L65.14 247.3 L66.2 247.68 L67.26 248.07 L68.32 248.46 L69.38 248.85 L70.44 249.23 L71.5 249.62 L72.56 250 L73.62 250.38 L74.68 250.76 L75.74 251.14 L76.8 251.51 L77.86 251.88 L78.93 252.25 L79.99 252.61 L81.05 252.96 L82.11 253.32 L83.17 253.66 L84.23 254 L85.29 254.33 L86.35 254.66 L87.41 254.98 L88.47 255.29 L89.53 255.59 L90.59 255.89 L91.65 256.18 L92.71 256.46 L93.77 256.73 L94.83 257 L95.89 257.26 L96.95 257.52 L98.02 257.78 L99.08 258.03 L100.14 258.28 L101.2 258.52 L102.26 258.76 L103.32 259 L104.38 259.23 L105.44 259.46 L106.5 259.69 L107.56 259.91 L108.62 260.13 L109.68 260.34 L110.74 260.56 L111.8 260.76 L112.86 260.97 L113.92 261.17 L114.98 261.37 L116.04 261.57 L117.1 261.76 L118.17 261.95 L119.23 262.14 L120.29 262.33 L121.35 262.51 L122.41 262.69 L123.47 262.86 L124.53 263.03 L125.59 263.2 L126.65 263.36 L127.71 263.52 L128.77 263.68 L129.83 263.84 L130.89 263.99 L131.95 264.14 L133.01 264.29 L134.07 264.43 L135.13 264.58 L136.19 264.72 L137.26 264.87 L138.32 265.01 L139.38 265.16 L140.44 265.3 L141.5 265.45 L142.56 265.6 L143.62 265.75 L144.68 265.9 L145.74 266.05 L146.8 266.21 L147.86 266.37 L148.92 266.53 L149.98 266.69 L151.04 266.85 L152.1 267.01 L153.16 267.17 L154.22 267.34 L155.28 267.5 L156.35 267.67 L157.41 267.84 L158.47 268.01 L159.53 268.18 L160.59 268.35 L161.65 268.53 L162.71 268.71 L163.77 268.89 L164.83 269.07 L165.89 269.26 L166.95 269.45 L168.01 269.64 L169.07 269.84 L170.13 270.05 L171.19 270.26 L172.25 270.48 L173.31 270.7 L174.37 270.94 L175.44 271.19 L176.5 271.45 L177.56 271.73 L178.62 272.02 L179.68 272.34 L180.74 272.67 L181.8 273.03 L182.86 273.42 L183.92 273.84 L184.98 274.29 L186.04 274.78 L187.1 275.32 L188.16 275.91 L189.22 276.56 L190.28 277.27 L191.34 278.06 L192.4 278.93 L193.46 279.9 L194.53 280.97 L195.59 282.17 L196.65 283.5 L197.71 284.99 L198.77 286.65 L199.83 288.52 L200.89 290.61 L201.95 292.95 L203.01 295.58 L204.07 298.54 L205.13 301.87 L206.19 305.62 L207.25 309.83 L207.25 309.83 L207.33 310.19 L207.42 310.54 L207.5 310.9 L207.58 311.26 L207.67 311.63 L207.75 312 L207.83 312.37 L207.92 312.75 L208 313.13 L208.08 313.51 L208.17 313.9 L208.25 314.29 L208.33 314.68 L208.42 315.08 L208.5 315.48 L208.58 315.89 L208.66 316.3 L208.75 316.71 L208.83 317.13 L208.91 317.55 L209 317.97 L209.08 318.4 L209.16 318.83 L209.25 319.27 L209.33 319.71 L209.41 320.16 L209.5 320.61 L209.58 321.06 L209.66 321.52 L209.75 321.98 L209.83 322.45 L209.91 322.92 L209.99 323.4 L210.08 323.88 L210.16 324.36 L210.24 324.85 L210.33 325.34 L210.41 325.84 L210.49 326.35 L210.63 324.78 L210.77 323.25 L210.91 321.75 L211.05 320.3 L211.19 318.88 L211.33 317.49 L211.47 316.14 L211.61 314.82 L211.75 313.53 L211.89 312.28 L212.03 311.05 L212.17 309.86 L212.32 308.69 L212.46 307.55 L212.6 306.44 L212.74 305.36 L212.88 304.3 L213.02 303.27 L213.16 302.27 L213.3 301.29 L213.44 300.33 L213.58 299.4 L213.72 298.48 L213.86 297.6 L214 296.73 L214.14 295.88 L214.28 295.06 L214.42 294.25 L214.56 293.47 L214.7 292.7 L214.84 291.95 L214.98 291.22 L215.12 290.51 L215.26 289.82 L215.4 289.14 L215.54 288.48 L215.68 287.83 L215.82 287.21 L215.96 286.59 L216.1 285.99 L216.24 285.41 L216.38 284.84 L216.52 284.28 L216.66 283.74 L216.8 283.21 L216.94 282.7 L217.08 282.19 L217.22 281.7 L217.36 281.22 L217.5 280.75 L217.64 280.3 L217.78 279.85 L217.92 279.42 L218.06 279 L218.2 278.58 L218.34 278.18 L218.48 277.79 L218.62 277.4 L218.76 277.03" fill="none" stroke="#ff7f0e" stroke-width="0.95" stroke-linejoin="round" stroke-linecap="butt" />
<path d="M38.3 218.14 L38.46 226.65 L38.62 233.41 L39.6 234.56 L40.57 235.73 L41.54 236.91 L42.51 237.95 L43.48 238.79 L44.45 239.55 L45.42 240.24 L46.39 240.88 L47.36 241.47 L48.34 242.02 L49.31 242.55 L50.28 243.05 L51.25 243.53 L52.22 243.99 L53.19 244.44 L54.16 244.87 L55.13 245.3 L56.11 245.71 L57.08 246.11 L58.05 246.5 L59.02 246.89 L59.99 247.27 L60.96 247.64 L61.93 248.02 L62.9 248.39 L63.87 248.76 L64.85 249.13 L65.82 249.5 L66.79 249.88 L67.76 250.25 L68.73 250.63 L69.7 251 L70.67 251.37 L71.64 251.74 L72.62 252.11 L73.59 252.48 L74.56 252.85 L75.53 253.21 L76.5 253.57 L77.47 253.93 L78.44 254.28 L79.41 254.63 L80.38 254.98 L81.36 255.32 L82.33 255.66 L83.3 256 L84.27 256.33 L85.24 256.65 L86.21 256.97 L87.18 257.28 L88.15 257.59 L89.13 257.89 L90.1 258.18 L91.07 258.46 L92.04 258.74 L93.01 259.01 L93.98 259.28 L94.95 259.55 L95.92 259.81 L96.9 260.06 L97.87 260.32 L98.84 260.57 L99.81 260.81 L100.78 261.06 L101.75 261.3 L102.72 261.53 L103.69 261.77 L104.66 262 L105.64 262.23 L106.61 262.45 L107.58 262.67 L108.55 262.89 L109.52 263.11 L110.49 263.32 L111.46 263.54 L112.43 263.74 L113.41 263.95 L114.38 264.15 L115.35 264.36 L116.32 264.55 L117.29 264.75 L118.26 264.95 L119.23 265.14 L120.2 265.33 L121.17 265.51 L122.15 265.7 L123.12 265.88 L124.09 266.06 L125.06 266.23 L126.03 266.4 L127 266.57 L127.97 266.74 L128.94 266.91 L129.92 267.08 L130.89 267.22 L131.86 267.37 L132.83 267.51 L133.8 267.65 L134.77 267.79 L135.74 267.93 L136.71 268.07 L137.68 268.21 L138.66 268.35 L139.63 268.5 L140.6 268.64 L141.57 268.79 L142.54 268.94 L143.51 269.1 L144.48 269.25 L145.45 269.42 L146.43 269.58 L147.4 269.75 L148.37 269.92 L149.34 270.1 L150.31 270.28 L151.28 270.47 L152.25 270.66 L153.22 270.85 L154.19 271.06 L155.17 271.26 L156.14 271.48 L157.11 271.7 L158.08 271.93 L159.05 272.18 L160.02 272.43 L160.99 272.69 L161.96 272.97 L162.94 273.26 L163.91 273.57 L164.88 273.89 L165.85 274.23 L166.82 274.6 L167.79 274.99 L168.76 275.4 L169.73 275.85 L170.7 276.33 L171.68 276.84 L172.65 277.39 L173.62 277.99 L174.59 278.64 L175.56 279.34 L176.53 280.11 L177.5 280.94 L178.47 281.85 L179.45 282.84 L180.42 283.93 L181.39 285.12 L182.36 286.42 L183.33 287.85 L184.3 289.42 L185.27 291.14 L186.24 293.03 L187.21 295.12 L188.19 297.42 L189.16 299.95 L190.13 302.73 L191.1 305.81 L192.07 309.21 L193.04 312.95 L193.04 312.95 L193.13 313.29 L193.21 313.63 L193.29 313.98 L193.37 314.32 L193.46 314.67 L193.54 315.03 L193.62 315.38 L193.71 315.74 L193.79 316.11 L193.87 316.47 L193.96 316.84 L194.04 317.21 L194.12 317.59 L194.21 317.96 L194.29 318.34 L194.37 318.73 L194.46 319.12 L194.54 319.51 L194.62 319.9 L194.7 320.3 L194.79 320.7 L194.87 321.11 L194.95 321.51 L195.04 321.93 L195.12 322.34 L195.2 322.76 L195.29 323.18 L195.37 323.61 L195.45 324.04 L195.54 324.47 L195.62 324.91 L195.7 325.35 L195.78 325.79 L195.87 326.24 L195.95 326.69 L196.03 327.15 L196.12 327.61 L196.2 328.07 L196.28 328.54 L196.5 326.04 L196.72 323.63 L196.93 321.31 L197.15 319.08 L197.37 316.93 L197.59 314.86 L197.8 312.87 L198.02 310.95 L198.24 309.11 L198.45 307.33 L198.67 305.63 L198.89 303.98 L199.11 302.4 L199.32 300.88 L199.54 299.41 L199.76 298 L199.97 296.64 L200.19 295.34 L200.41 294.08 L200.62 292.87 L200.84 291.7 L201.06 290.58 L201.28 289.5 L201.49 288.46 L201.71 287.46 L201.93 286.5 L202.14 285.57 L202.36 284.68 L202.58 283.83 L202.79 283 L203.01 282.2 L203.23 281.44 L203.45 280.7 L203.66 280 L203.88 279.31 L204.1 278.66 L204.31 278.03 L204.53 277.42 L204.75 276.83 L204.97 276.27 L205.18 275.73 L205.4 275.2 L205.62 274.7 L205.83 274.22 L206.05 273.75 L206.27 273.31 L206.48 272.88 L206.7 272.46 L206.92 272.06 L207.14 271.68 L207.35 271.31 L207.57 270.95 L207.79 270.61 L208 270.28 L208.22 269.96 L208.44 269.66 L208.65 269.36 L208.87 269.08 L209.09 268.81" fill="none" stroke="#2ca02c" stroke-width="0.95" stroke-linejoin="round" stroke-linecap="butt" />
<path d="M38.3 218.14 L38.46 226.65 L38.62 233.56 L39.51 234.95 L40.4 236.29 L41.28 237.6 L42.17 238.78 L43.05 239.75 L43.94 240.59 L44.83 241.36 L45.71 242.05 L46.6 242.69 L47.48 243.28 L48.37 243.84 L49.25 244.36 L50.14 244.86 L51.03 245.34 L51.91 245.8 L52.8 246.24 L53.68 246.67 L54.57 247.09 L55.46 247.49 L56.34 247.89 L57.23 248.27 L58.11 248.65 L59 249.03 L59.89 249.39 L60.77 249.76 L61.66 250.12 L62.54 250.48 L63.43 250.84 L64.31 251.2 L65.2 251.56 L66.09 251.92 L66.97 252.28 L67.86 252.65 L68.74 253.01 L69.63 253.37 L70.52 253.73 L71.4 254.09 L72.29 254.44 L73.17 254.8 L74.06 255.15 L74.95 255.51 L75.83 255.86 L76.72 256.21 L77.6 256.55 L78.49 256.9 L79.38 257.24 L80.26 257.57 L81.15 257.91 L82.03 258.24 L82.92 258.56 L83.8 258.89 L84.69 259.2 L85.58 259.52 L86.46 259.83 L87.35 260.13 L88.23 260.43 L89.12 260.72 L90.01 261.01 L90.89 261.29 L91.78 261.57 L92.66 261.84 L93.55 262.1 L94.44 262.36 L95.32 262.62 L96.21 262.88 L97.09 263.14 L97.98 263.39 L98.86 263.64 L99.75 263.88 L100.64 264.13 L101.52 264.37 L102.41 264.61 L103.29 264.84 L104.18 265.07 L105.07 265.31 L105.95 265.53 L106.84 265.76 L107.72 265.99 L108.61 266.21 L109.5 266.43 L110.38 266.65 L111.27 266.86 L112.15 267.08 L113.04 267.29 L113.92 267.5 L114.81 267.71 L115.7 267.91 L116.58 268.12 L117.47 268.32 L118.35 268.53 L119.24 268.73 L120.13 268.93 L121.01 269.13 L121.9 269.32 L122.78 269.52 L123.67 269.71 L124.56 269.9 L125.44 270.09 L126.33 270.28 L127.21 270.47 L128.1 270.66 L128.98 270.85 L129.87 271.04 L130.76 271.2 L131.64 271.35 L132.53 271.5 L133.41 271.65 L134.3 271.81 L135.19 271.97 L136.07 272.13 L136.96 272.29 L137.84 272.46 L138.73 272.63 L139.62 272.81 L140.5 272.99 L141.39 273.18 L142.27 273.37 L143.16 273.58 L144.04 273.79 L144.93 274.01 L145.82 274.24 L146.7 274.48 L147.59 274.73 L148.47 274.99 L149.36 275.27 L150.25 275.56 L151.13 275.86 L152.02 276.18 L152.9 276.51 L153.79 276.87 L154.68 277.25 L155.56 277.64 L156.45 278.07 L157.33 278.51 L158.22 278.99 L159.1 279.5 L159.99 280.04 L160.88 280.62 L161.76 281.24 L162.65 281.9 L163.53 282.61 L164.42 283.38 L165.31 284.2 L166.19 285.08 L167.08 286.03 L167.96 287.05 L168.85 288.16 L169.74 289.35 L170.62 290.64 L171.51 292.03 L172.39 293.53 L173.28 295.16 L174.17 296.92 L175.05 298.84 L175.94 300.91 L176.82 303.16 L177.71 305.6 L178.59 308.25 L179.48 311.12 L179.48 311.12 L179.56 311.4 L179.65 311.69 L179.73 311.97 L179.81 312.26 L179.9 312.55 L179.98 312.85 L180.06 313.14 L180.15 313.44 L180.23 313.74 L180.31 314.05 L180.39 314.35 L180.48 314.66 L180.56 314.97 L180.64 315.28 L180.73 315.59 L180.81 315.91 L180.89 316.23 L180.98 316.55 L181.06 316.88 L181.14 317.21 L181.23 317.54 L181.31 317.87 L181.39 318.2 L181.48 318.54 L181.56 318.88 L181.64 319.22 L181.72 319.57 L181.81 319.92 L181.89 320.27 L181.97 320.62 L182.06 320.98 L182.14 321.34 L182.22 321.7 L182.31 322.07 L182.39 322.44 L182.47 322.81 L182.56 323.18 L182.64 323.56 L182.72 323.94 L183.05 320.43 L183.37 317.12 L183.69 313.99 L184.02 311.04 L184.34 308.25 L184.66 305.61 L184.99 303.12 L185.31 300.77 L185.63 298.55 L185.95 296.45 L186.28 294.47 L186.6 292.6 L186.92 290.83 L187.25 289.16 L187.57 287.58 L187.89 286.09 L188.22 284.68 L188.54 283.35 L188.86 282.09 L189.19 280.91 L189.51 279.78 L189.83 278.73 L190.16 277.73 L190.48 276.78 L190.8 275.89 L191.13 275.04 L191.45 274.25 L191.77 273.49 L192.1 272.78 L192.42 272.11 L192.74 271.48 L193.07 270.88 L193.39 270.31 L193.71 269.78 L194.04 269.27 L194.36 268.8 L194.68 268.35 L195.01 267.92 L195.33 267.52 L195.65 267.14 L195.98 266.78 L196.3 266.44 L196.62 266.12 L196.95 265.82 L197.27 265.53 L197.59 265.26 L197.92 265.01 L198.24 264.77 L198.56 264.54 L198.89 264.33 L199.21 264.12 L199.53 263.93 L199.86 263.75 L200.18 263.58 L200.5 263.42 L200.82 263.26 L201.15 263.12 L201.47 262.98 L201.79 262.86" fill="none" stroke="#d62728" stroke-width="0.95" stroke-linejoin="round" stroke-linecap="butt" />
<path d="M38.3 218.14 L38.46 226.65 L38.62 233.66 L39.44 235.18 L40.26 236.6 L41.08 237.97 L41.89 239.23 L42.71 240.3 L43.53 241.2 L44.34 242.02 L45.16 242.76 L45.98 243.43 L46.8 244.05 L47.61 244.63 L48.43 245.17 L49.25 245.68 L50.07 246.17 L50.88 246.63 L51.7 247.08 L52.52 247.52 L53.33 247.93 L54.15 248.34 L54.97 248.74 L55.79 249.12 L56.6 249.5 L57.42 249.87 L58.24 250.23 L59.06 250.59 L59.87 250.95 L60.69 251.3 L61.51 251.65 L62.32 251.99 L63.14 252.34 L63.96 252.68 L64.78 253.03 L65.59 253.37 L66.41 253.72 L67.23 254.07 L68.05 254.41 L68.86 254.76 L69.68 255.11 L70.5 255.45 L71.31 255.8 L72.13 256.14 L72.95 256.48 L73.77 256.82 L74.58 257.16 L75.4 257.5 L76.22 257.84 L77.03 258.17 L77.85 258.5 L78.67 258.83 L79.49 259.16 L80.3 259.49 L81.12 259.81 L81.94 260.13 L82.76 260.44 L83.57 260.75 L84.39 261.06 L85.21 261.37 L86.02 261.67 L86.84 261.97 L87.66 262.26 L88.48 262.55 L89.29 262.83 L90.11 263.11 L90.93 263.38 L91.75 263.65 L92.56 263.92 L93.38 264.18 L94.2 264.44 L95.01 264.69 L95.83 264.95 L96.65 265.2 L97.47 265.45 L98.28 265.69 L99.1 265.94 L99.92 266.18 L100.73 266.42 L101.55 266.66 L102.37 266.9 L103.19 267.14 L104 267.37 L104.82 267.6 L105.64 267.83 L106.46 268.06 L107.27 268.29 L108.09 268.52 L108.91 268.74 L109.72 268.97 L110.54 269.19 L111.36 269.41 L112.18 269.63 L112.99 269.85 L113.81 270.07 L114.63 270.29 L115.45 270.51 L116.26 270.73 L117.08 270.95 L117.9 271.17 L118.71 271.39 L119.53 271.61 L120.35 271.83 L121.17 272.05 L121.98 272.27 L122.8 272.49 L123.62 272.71 L124.44 272.93 L125.25 273.15 L126.07 273.38 L126.89 273.61 L127.7 273.84 L128.52 274.07 L129.34 274.31 L130.16 274.55 L130.97 274.75 L131.79 274.95 L132.61 275.16 L133.42 275.37 L134.24 275.59 L135.06 275.82 L135.88 276.06 L136.69 276.31 L137.51 276.57 L138.33 276.84 L139.15 277.13 L139.96 277.42 L140.78 277.74 L141.6 278.07 L142.41 278.41 L143.23 278.78 L144.05 279.16 L144.87 279.57 L145.68 280.01 L146.5 280.47 L147.32 280.95 L148.14 281.47 L148.95 282.02 L149.77 282.6 L150.59 283.22 L151.4 283.87 L152.22 284.57 L153.04 285.32 L153.86 286.12 L154.67 286.96 L155.49 287.87 L156.31 288.84 L157.12 289.87 L157.94 290.98 L158.76 292.16 L159.58 293.42 L160.39 294.78 L161.21 296.23 L162.03 297.79 L162.85 299.46 L163.66 301.25 L164.48 303.18 L165.3 305.24 L166.11 307.46 L166.93 309.84 L167.75 312.4 L168.57 315.15 L168.57 315.15 L168.65 315.44 L168.73 315.73 L168.82 316.03 L168.9 316.33 L168.98 316.63 L169.07 316.93 L169.15 317.23 L169.23 317.54 L169.31 317.85 L169.4 318.16 L169.48 318.47 L169.56 318.79 L169.65 319.11 L169.73 319.43 L169.81 319.75 L169.9 320.07 L169.98 320.4 L170.06 320.73 L170.15 321.06 L170.23 321.4 L170.31 321.74 L170.4 322.08 L170.48 322.42 L170.56 322.76 L170.64 323.11 L170.73 323.46 L170.81 323.82 L170.89 324.17 L170.98 324.53 L171.06 324.89 L171.14 325.25 L171.23 325.62 L171.31 325.99 L171.39 326.36 L171.48 326.73 L171.56 327.11 L171.64 327.49 L171.73 327.87 L171.81 328.26 L172.2 323.76 L172.58 319.56 L172.97 315.63 L173.36 311.97 L173.74 308.54 L174.13 305.34 L174.52 302.36 L174.91 299.57 L175.29 296.96 L175.68 294.53 L176.07 292.25 L176.46 290.13 L176.84 288.15 L177.23 286.29 L177.62 284.56 L178.01 282.95 L178.39 281.44 L178.78 280.03 L179.17 278.71 L179.56 277.48 L179.94 276.33 L180.33 275.26 L180.72 274.26 L181.1 273.32 L181.49 272.45 L181.88 271.63 L182.27 270.87 L182.65 270.16 L183.04 269.49 L183.43 268.87 L183.82 268.29 L184.2 267.75 L184.59 267.25 L184.98 266.77 L185.37 266.33 L185.75 265.92 L186.14 265.53 L186.53 265.17 L186.92 264.84 L187.3 264.52 L187.69 264.23 L188.08 263.96 L188.46 263.7 L188.85 263.46 L189.24 263.24 L189.63 263.03 L190.01 262.84 L190.4 262.66 L190.79 262.49 L191.18 262.33 L191.56 262.18 L191.95 262.04 L192.34 261.91 L192.73 261.79 L193.11 261.68 L193.5 261.57 L193.89 261.47 L194.28 261.38 L194.66 261.3" fill="none" stroke="#9467bd" stroke-width="0.95" stroke-linejoin="round" stroke-linecap="butt" />
<path d="M38.3 218.14 L38.46 226.65 L38.62 233.78 L39.4 235.46 L40.18 237.02 L40.96 238.5 L41.73 239.86 L42.51 241.03 L43.29 242.02 L44.06 242.9 L44.84 243.69 L45.62 244.42 L46.4 245.08 L47.17 245.69 L47.95 246.26 L48.73 246.8 L49.5 247.3 L50.28 247.79 L51.06 248.25 L51.84 248.7 L52.61 249.13 L53.39 249.55 L54.17 249.95 L54.94 250.34 L55.72 250.73 L56.5 251.11 L57.28 251.47 L58.05 251.84 L58.83 252.19 L59.61 252.55 L60.38 252.9 L61.16 253.24 L61.94 253.59 L62.72 253.93 L63.49 254.27 L64.27 254.62 L65.05 254.96 L65.82 255.3 L66.6 255.65 L67.38 255.99 L68.16 256.34 L68.93 256.68 L69.71 257.02 L70.49 257.37 L71.26 257.71 L72.04 258.05 L72.82 258.39 L73.6 258.73 L74.37 259.07 L75.15 259.4 L75.93 259.74 L76.7 260.07 L77.48 260.4 L78.26 260.73 L79.04 261.06 L79.81 261.38 L80.59 261.71 L81.37 262.03 L82.14 262.34 L82.92 262.66 L83.7 262.97 L84.48 263.28 L85.25 263.58 L86.03 263.88 L86.81 264.18 L87.58 264.47 L88.36 264.76 L89.14 265.05 L89.92 265.33 L90.69 265.61 L91.47 265.88 L92.25 266.15 L93.02 266.42 L93.8 266.68 L94.58 266.94 L95.36 267.2 L96.13 267.46 L96.91 267.72 L97.69 267.97 L98.46 268.22 L99.24 268.48 L100.02 268.72 L100.8 268.97 L101.57 269.22 L102.35 269.46 L103.13 269.71 L103.9 269.95 L104.68 270.19 L105.46 270.44 L106.24 270.68 L107.01 270.91 L107.79 271.15 L108.57 271.39 L109.34 271.63 L110.12 271.87 L110.9 272.11 L111.68 272.34 L112.45 272.58 L113.23 272.82 L114.01 273.06 L114.78 273.3 L115.56 273.54 L116.34 273.78 L117.12 274.02 L117.89 274.26 L118.67 274.51 L119.45 274.76 L120.22 275.01 L121 275.26 L121.78 275.51 L122.56 275.77 L123.33 276.03 L124.11 276.29 L124.89 276.56 L125.66 276.83 L126.44 277.1 L127.22 277.38 L128 277.67 L128.77 277.97 L129.55 278.27 L130.33 278.56 L131.1 278.82 L131.88 279.09 L132.66 279.36 L133.44 279.65 L134.21 279.95 L134.99 280.26 L135.77 280.59 L136.54 280.94 L137.32 281.3 L138.1 281.68 L138.88 282.08 L139.65 282.5 L140.43 282.95 L141.21 283.41 L141.98 283.91 L142.76 284.43 L143.54 284.99 L144.32 285.58 L145.09 286.2 L145.87 286.86 L146.65 287.57 L147.42 288.31 L148.2 289.1 L148.98 289.94 L149.76 290.84 L150.53 291.78 L151.31 292.79 L152.09 293.87 L152.87 295.01 L153.64 296.23 L154.42 297.53 L155.2 298.91 L155.97 300.38 L156.75 301.95 L157.53 303.63 L158.31 305.42 L159.08 307.32 L159.86 309.36 L160.64 311.54 L161.41 313.86 L162.19 316.34 L162.19 316.34 L162.27 316.62 L162.36 316.9 L162.44 317.18 L162.52 317.46 L162.61 317.74 L162.69 318.03 L162.77 318.31 L162.86 318.6 L162.94 318.9 L163.02 319.19 L163.11 319.49 L163.19 319.78 L163.27 320.08 L163.35 320.39 L163.44 320.69 L163.52 321 L163.6 321.3 L163.69 321.62 L163.77 321.93 L163.85 322.24 L163.94 322.56 L164.02 322.88 L164.1 323.2 L164.19 323.53 L164.27 323.85 L164.35 324.18 L164.44 324.52 L164.52 324.85 L164.6 325.19 L164.68 325.52 L164.77 325.87 L164.85 326.21 L164.93 326.56 L165.02 326.9 L165.1 327.25 L165.18 327.61 L165.27 327.96 L165.35 328.32 L165.43 328.68 L165.85 323.76 L166.26 319.18 L166.68 314.92 L167.1 310.97 L167.51 307.29 L167.93 303.88 L168.34 300.7 L168.76 297.75 L169.17 295.01 L169.59 292.46 L170.01 290.1 L170.42 287.89 L170.84 285.85 L171.25 283.95 L171.67 282.18 L172.08 280.54 L172.5 279.02 L172.92 277.6 L173.33 276.28 L173.75 275.06 L174.16 273.92 L174.58 272.86 L174.99 271.88 L175.41 270.97 L175.83 270.12 L176.24 269.33 L176.66 268.6 L177.07 267.91 L177.49 267.28 L177.91 266.69 L178.32 266.15 L178.74 265.64 L179.15 265.17 L179.57 264.73 L179.98 264.32 L180.4 263.94 L180.82 263.59 L181.23 263.26 L181.65 262.96 L182.06 262.67 L182.48 262.41 L182.89 262.17 L183.31 261.94 L183.73 261.73 L184.14 261.53 L184.56 261.35 L184.97 261.18 L185.39 261.02 L185.8 260.88 L186.22 260.74 L186.64 260.62 L187.05 260.5 L187.47 260.39 L187.88 260.29 L188.3 260.19 L188.71 260.11 L189.13 260.03 L189.55 259.95 L189.96 259.88" fill="none" stroke="#8c564b" stroke-width="0.95" stroke-linejoin="round" stroke-linecap="butt" />
<rect x="31.2" y="287.2" width="61.4" height="56.2" fill="#ffffff" fill-opacity="0.85" stroke="#dcdcdc" stroke-width="0.8" rx="1"/>
<line x1="33.8" y1="292.6" x2="46.3" y2="292.6" stroke="#1f77b4" stroke-width="1.3" stroke-opacity="0.75"/>
<text x="48.4" y="295.03" font-size="6.75" text-anchor="start" font-weight="bold" fill="#1a1a1a" stroke="#1a1a1a" stroke-width="0.2" >Cycle 20th</text>
<line x1="33.8" y1="301.6" x2="46.3" y2="301.6" stroke="#ff7f0e" stroke-width="1.3" stroke-opacity="0.75"/>
<text x="48.4" y="304.03" font-size="6.75" text-anchor="start" font-weight="bold" fill="#1a1a1a" stroke="#1a1a1a" stroke-width="0.2" >Cycle 50th</text>
<line x1="33.8" y1="310.6" x2="46.3" y2="310.6" stroke="#2ca02c" stroke-width="1.3" stroke-opacity="0.75"/>
<text x="48.4" y="313.03" font-size="6.75" text-anchor="start" font-weight="bold" fill="#1a1a1a" stroke="#1a1a1a" stroke-width="0.2" >Cycle 80th</text>
<line x1="33.8" y1="319.6" x2="46.3" y2="319.6" stroke="#d62728" stroke-width="1.3" stroke-opacity="0.75"/>
<text x="48.4" y="322.03" font-size="6.75" text-anchor="start" font-weight="bold" fill="#1a1a1a" stroke="#1a1a1a" stroke-width="0.2" >Cycle 110th</text>
<line x1="33.8" y1="328.6" x2="46.3" y2="328.6" stroke="#9467bd" stroke-width="1.3" stroke-opacity="0.75"/>
<text x="48.4" y="331.03" font-size="6.75" text-anchor="start" font-weight="bold" fill="#1a1a1a" stroke="#1a1a1a" stroke-width="0.2" >Cycle 140th</text>
<line x1="33.8" y1="337.6" x2="46.3" y2="337.6" stroke="#8c564b" stroke-width="1.3" stroke-opacity="0.75"/>
<text x="48.4" y="340.03" font-size="6.75" text-anchor="start" font-weight="bold" fill="#1a1a1a" stroke="#1a1a1a" stroke-width="0.2" >Cycle 170th</text>
<text x="4.5" y="198.3" font-size="10.0" text-anchor="start" font-weight="bold" fill="#1a1a1a" stroke="#1a1a1a" stroke-width="0.2" >C</text>
<rect x="304.8" y="294" width="95.8" height="57.3" fill="#d99ec9"/>
<line x1="289.6" y1="219.4" x2="487.9" y2="219.4" stroke="#3e4658" stroke-width="1.0"/>
<line x1="293.0" y1="222.2" x2="398.5" y2="222.2" stroke="#c42236" stroke-width="1.25" stroke-dasharray="2.8 1.5" stroke-dashoffset="-0.6"/>
<line x1="400.6" y1="293.6" x2="487.9" y2="293.6" stroke="#4e2e4a" stroke-width="1.3" stroke-dasharray="2.3 1.2"/>
<line x1="400.6" y1="222.5" x2="400.6" y2="351.3" stroke="#111" stroke-width="1.5" stroke-dasharray="3.4 2.6" stroke-dashoffset="4.7"/>
<path d="M304.8 351.3 L304.8 294 L400.6 294 L401.19 296.25 L401.79 298.4 L402.38 300.45 L402.97 302.42 L403.57 304.31 L404.16 306.12 L404.75 307.84 L405.35 309.5 L405.94 311.09 L406.54 312.6 L407.13 314.06 L407.72 315.45 L408.32 316.79 L408.91 318.07 L409.5 319.29 L410.1 320.47 L410.69 321.6 L411.28 322.68 L411.88 323.71 L412.47 324.7 L413.06 325.66 L413.66 326.57 L414.25 327.45 L414.84 328.29 L415.44 329.09 L416.03 329.87 L416.63 330.61 L417.22 331.32 L417.81 332.01 L418.41 332.66 L419 333.29 L419.59 333.9 L420.19 334.48 L420.78 335.04 L421.37 335.58 L421.97 336.1 L422.56 336.59 L423.15 337.07 L423.75 337.53 L424.34 337.97 L424.93 338.39 L425.53 338.8 L426.12 339.2 L426.72 339.57 L427.31 339.94 L427.9 340.29 L428.5 340.62 L429.09 340.95 L429.68 341.26 L430.28 341.56 L430.87 341.85 L431.46 342.13 L432.06 342.4 L432.65 342.66 L433.24 342.91 L433.84 343.15 L434.43 343.39 L435.02 343.61 L435.62 343.83 L436.21 344.04 L436.81 344.24 L437.4 344.43 L437.99 344.62 L438.59 344.8 L439.18 344.98 L439.77 345.15 L440.37 345.31 L440.96 345.47 L441.55 345.62 L442.15 345.77 L442.74 345.91 L443.33 346.05 L443.93 346.19 L444.52 346.32 L445.11 346.44 L445.71 346.56 L446.3 346.68 L446.89 346.79 L447.49 346.9 L448.08 347.01 L448.68 347.11 L449.27 347.21 L449.86 347.31 L450.46 347.41 L451.05 347.5 L451.64 347.59 L452.24 347.67 L452.83 347.76 L453.42 347.84 L454.02 347.91 L454.61 347.99 L455.2 348.06 L455.8 348.14 L456.39 348.21 L456.98 348.27 L457.58 348.34 L458.17 348.4 L458.77 348.47 L459.36 348.53 L459.95 348.58 L460.55 348.64 L461.14 348.7 L461.73 348.75 L462.33 348.8 L462.92 348.86 L463.51 348.91 L464.11 348.95 L464.7 349 L465.29 349.05 L465.89 349.09 L466.48 349.13 L467.07 349.18 L467.67 349.22 L468.26 349.26 L468.86 349.3 L469.45 349.34 L470.04 349.37 L470.64 349.41 L471.23 349.44 L471.82 349.48 L472.42 349.51 L473.01 349.55 L473.6 349.58 L474.2 349.61 L474.79 349.64 L475.38 349.67 L475.98 349.7 L476.57 349.73 L477.16 349.75 L477.76 349.78 L478.35 349.81 L478.95 349.83 L479.54 349.86 L480.13 349.88 L480.73 349.91 L481.32 349.93 L481.91 349.95 L482.51 349.97 L483.1 350" fill="none" stroke="#4a1a42" stroke-width="1.25" stroke-linejoin="round" stroke-linecap="butt" />
<path d="M304.5 294 C304.4 293.42 304.07 292.5 303.9 290.5 C303.73 288.5 303.57 284.58 303.5 282 C303.43 279.42 303.45 277.33 303.5 275 C303.55 272.67 303.67 269.92 303.8 268 C303.93 266.08 304.07 264.8 304.3 263.5 C304.53 262.2 304.87 261.12 305.2 260.2 C305.53 259.28 305.9 258.7 306.3 258 C306.7 257.3 307.13 256.62 307.6 256 C308.07 255.38 308.45 255.1 309.1 254.3 C309.75 253.5 310.67 252.17 311.5 251.2 C312.33 250.23 313.18 249.3 314.1 248.5 C315.02 247.7 315.98 247 317 246.4 C318.02 245.8 318.87 245.38 320.2 244.9 C321.53 244.42 323.32 243.93 325 243.5 C326.68 243.07 327.73 242.85 330.3 242.3 C332.87 241.75 337.03 240.88 340.4 240.2 C343.77 239.52 347.13 238.92 350.5 238.2 C353.87 237.48 357.23 236.68 360.6 235.9 C363.97 235.12 367.33 234.37 370.7 233.5 C374.07 232.63 378.33 231.47 380.8 230.7 C383.27 229.93 384.15 229.5 385.5 228.9 C386.85 228.3 387.82 227.72 388.9 227.1 C389.98 226.48 391 225.82 392 225.2 C393 224.58 393.73 224 394.9 223.4 C396.07 222.8 398.32 221.9 399 221.6 L401.2 223.5 L404 223.9 L480.4 223.9" fill="none" stroke="#cc1022" stroke-width="2.4" stroke-linejoin="round"/>
<line x1="292.1" y1="351.3" x2="292.1" y2="206.5" stroke="#505050" stroke-width="1.1"/>
<path d="M292.1 203.6 L290.6 207.4 L293.6 207.4 Z" fill="#222"/>
<line x1="487.9" y1="351.3" x2="487.9" y2="205" stroke="#707070" stroke-width="1.6"/>
<path d="M487.9 201.8 L486.4 205.6 L489.4 205.6 Z" fill="#222"/>
<line x1="292.1" y1="351.3" x2="506.5" y2="351.3" stroke="#444" stroke-width="1.1"/>
<path d="M509.4 351.3 L505.6 349.8 L505.6 352.8 Z" fill="#222"/>
<line x1="288.5" y1="219.3" x2="292.1" y2="219.3" stroke="#3a3a3a" stroke-width="0.8"/>
<text x="287" y="221.6" font-size="6.3" text-anchor="end" font-weight="bold" fill="#1a1a1a" stroke="#1a1a1a" stroke-width="0.2" >4.25</text>
<line x1="288.5" y1="235.8" x2="292.1" y2="235.8" stroke="#3a3a3a" stroke-width="0.8"/>
<text x="287" y="238.1" font-size="6.3" text-anchor="end" font-weight="bold" fill="#1a1a1a" stroke="#1a1a1a" stroke-width="0.2" >4.00</text>
<line x1="288.5" y1="252.3" x2="292.1" y2="252.3" stroke="#3a3a3a" stroke-width="0.8"/>
<text x="287" y="254.6" font-size="6.3" text-anchor="end" font-weight="bold" fill="#1a1a1a" stroke="#1a1a1a" stroke-width="0.2" >3.75</text>
<line x1="288.5" y1="268.8" x2="292.1" y2="268.8" stroke="#3a3a3a" stroke-width="0.8"/>
<text x="287" y="271.1" font-size="6.3" text-anchor="end" font-weight="bold" fill="#1a1a1a" stroke="#1a1a1a" stroke-width="0.2" >3.50</text>
<line x1="288.5" y1="285.3" x2="292.1" y2="285.3" stroke="#3a3a3a" stroke-width="0.8"/>
<text x="287" y="287.6" font-size="6.3" text-anchor="end" font-weight="bold" fill="#1a1a1a" stroke="#1a1a1a" stroke-width="0.2" >3.25</text>
<line x1="288.5" y1="301.8" x2="292.1" y2="301.8" stroke="#3a3a3a" stroke-width="0.8"/>
<text x="287" y="304.1" font-size="6.3" text-anchor="end" font-weight="bold" fill="#1a1a1a" stroke="#1a1a1a" stroke-width="0.2" >3.00</text>
<line x1="288.5" y1="318.3" x2="292.1" y2="318.3" stroke="#3a3a3a" stroke-width="0.8"/>
<text x="287" y="320.6" font-size="6.3" text-anchor="end" font-weight="bold" fill="#1a1a1a" stroke="#1a1a1a" stroke-width="0.2" >2.75</text>
<line x1="288.5" y1="334.8" x2="292.1" y2="334.8" stroke="#3a3a3a" stroke-width="0.8"/>
<text x="287" y="337.1" font-size="6.3" text-anchor="end" font-weight="bold" fill="#1a1a1a" stroke="#1a1a1a" stroke-width="0.2" >2.50</text>
<text x="287" y="353.6" font-size="6.3" text-anchor="end" font-weight="bold" fill="#1a1a1a" stroke="#1a1a1a" stroke-width="0.2" >2.25</text>
<text x="494" y="351.3" font-size="6.6" text-anchor="start" font-weight="bold" fill="#1a1a1a" stroke="#1a1a1a" stroke-width="0.2" >0.0</text>
<line x1="487.9" y1="332.1" x2="491.5" y2="332.1" stroke="#555" stroke-width="0.8"/>
<text x="494" y="334" font-size="6.6" text-anchor="start" font-weight="bold" fill="#1a1a1a" stroke="#1a1a1a" stroke-width="0.2" >0.5</text>
<line x1="487.9" y1="313.3" x2="491.5" y2="313.3" stroke="#555" stroke-width="0.8"/>
<text x="494" y="315.2" font-size="6.6" text-anchor="start" font-weight="bold" fill="#1a1a1a" stroke="#1a1a1a" stroke-width="0.2" >1.0</text>
<line x1="487.9" y1="294.5" x2="491.5" y2="294.5" stroke="#555" stroke-width="0.8"/>
<text x="494" y="296.4" font-size="6.6" text-anchor="start" font-weight="bold" fill="#1a1a1a" stroke="#1a1a1a" stroke-width="0.2" >1.5</text>
<line x1="487.9" y1="275.7" x2="491.5" y2="275.7" stroke="#555" stroke-width="0.8"/>
<text x="494" y="277.6" font-size="6.6" text-anchor="start" font-weight="bold" fill="#1a1a1a" stroke="#1a1a1a" stroke-width="0.2" >2.0</text>
<line x1="487.9" y1="256.9" x2="491.5" y2="256.9" stroke="#555" stroke-width="0.8"/>
<text x="494" y="258.8" font-size="6.6" text-anchor="start" font-weight="bold" fill="#1a1a1a" stroke="#1a1a1a" stroke-width="0.2" >2.5</text>
<line x1="487.9" y1="238.1" x2="491.5" y2="238.1" stroke="#555" stroke-width="0.8"/>
<text x="494" y="240" font-size="6.6" text-anchor="start" font-weight="bold" fill="#1a1a1a" stroke="#1a1a1a" stroke-width="0.2" >3.0</text>
<line x1="487.9" y1="219.3" x2="491.5" y2="219.3" stroke="#555" stroke-width="0.8"/>
<text x="494" y="221.2" font-size="6.6" text-anchor="start" font-weight="bold" fill="#1a1a1a" stroke="#1a1a1a" stroke-width="0.2" >3.5</text>
<text transform="translate(286.5 202.5) rotate(-90)" font-size="6.35" text-anchor="middle" font-weight="normal" fill="#d41c2c" stroke="#d41c2c" stroke-width="0.22" dominant-baseline="central">Voltage</text>
<text transform="translate(481.2 206.4) rotate(-90)" font-size="5.9" text-anchor="middle" font-weight="bold" fill="#1a1a1a" stroke="#1a1a1a" stroke-width="0.2" dominant-baseline="central">Current</text>
<text x="504.6" y="346.8" font-size="6.5" text-anchor="start" font-weight="bold" fill="#1a1a1a" stroke="#1a1a1a" stroke-width="0.2" >Time</text>
<text x="272.8" y="228.5" font-size="6.0" font-style="italic" font-weight="bold" fill="#cc1022" stroke="#cc1022" stroke-width="0.12">V</text>
<text x="275.9" y="230.6" font-size="7.2" font-style="italic" font-weight="bold" fill="#cc1022" stroke="#cc1022" stroke-width="0.1">max</text>
<text x="475.6" y="289.1" font-size="7.2" font-style="italic" font-weight="bold" fill="#1a1a1a">I</text>
<text x="477.4" y="290.5" font-size="4.9" font-style="italic" font-weight="bold" fill="#1a1a1a">CC</text>
<rect x="406.5" y="251.5" width="65" height="24.9" fill="#fff" stroke="#d8d8d8" stroke-width="0.7"/>
<line x1="409.2" y1="258.4" x2="418.9" y2="258.4" stroke="#6b3fa0" stroke-width="1.3"/>
<line x1="409.2" y1="268.8" x2="420.0" y2="268.8" stroke="#cc1022" stroke-width="2.2"/>
<text x="420.7" y="260.4" font-size="5.7" text-anchor="start" font-weight="normal" fill="#1a1a1a" stroke="#1a1a1a" stroke-width="0.3" >Current_measured</text>
<text x="420.5" y="270.6" font-size="5.7" text-anchor="start" font-weight="normal" fill="#1a1a1a" stroke="#1a1a1a" stroke-width="0.3" >Voltage_measured</text>
<text x="341.7" y="277.8" font-size="6.05" text-anchor="middle" font-weight="bold" fill="#1a1a1a" stroke="#1a1a1a" stroke-width="0.2" >X1: Initial Charge</text>
<text x="341.7" y="285.4" font-size="6.05" text-anchor="middle" font-weight="bold" fill="#1a1a1a" stroke="#1a1a1a" stroke-width="0.2" >voltage</text>
<text x="349.4" y="319.7" font-size="6.05" text-anchor="middle" font-weight="bold" fill="#1a1a1a" stroke="#1a1a1a" stroke-width="0.2" >X2: CC Charge capacity</text>
<text x="433.6" y="231.4" font-size="6.05" text-anchor="middle" font-weight="bold" fill="#1a1a1a" stroke="#1a1a1a" stroke-width="0.2" >X4: Final Charge</text>
<text x="433.6" y="238.6" font-size="6.05" text-anchor="middle" font-weight="bold" fill="#1a1a1a" stroke="#1a1a1a" stroke-width="0.2" >voltage</text>
<text x="431.6" y="319.8" font-size="5.85" text-anchor="middle" font-weight="bold" fill="#1a1a1a" stroke="#1a1a1a" stroke-width="0.2" >X3: CV Charge</text>
<text x="431.2" y="326.9" font-size="5.9" text-anchor="middle" font-weight="bold" fill="#1a1a1a" stroke="#1a1a1a" stroke-width="0.2" >capacity</text>
<text x="463.6" y="308.5" font-size="5.85" text-anchor="middle" font-weight="bold" fill="#1a1a1a" stroke="#1a1a1a" stroke-width="0.2" >X5: Final Charge</text>
<text x="463.3" y="314.8" font-size="5.9" text-anchor="middle" font-weight="bold" fill="#1a1a1a" stroke="#1a1a1a" stroke-width="0.2" >current</text>
<line x1="329.6" y1="280.6" x2="308" y2="293" stroke="#222" stroke-width="0.6"/>
<path d="M308 293 L309.71 290.75 L310.8 292.66 Z" fill="#111"/>
<line x1="449.6" y1="234.6" x2="477.5" y2="226" stroke="#222" stroke-width="0.6"/>
<path d="M477.5 226 L475.34 227.82 L474.69 225.71 Z" fill="#111"/>
<line x1="424" y1="328.9" x2="418.8" y2="345.2" stroke="#222" stroke-width="0.6"/>
<path d="M418.8 345.2 L418.54 342.39 L420.64 343.06 Z" fill="#111"/>
<line x1="465.6" y1="318.4" x2="483.1" y2="348.9" stroke="#222" stroke-width="0.6"/>
<path d="M483.1 348.9 L480.85 347.19 L482.76 346.1 Z" fill="#111"/>
<line x1="307.5" y1="355.8" x2="397.6" y2="355.8" stroke="#222" stroke-width="0.9" stroke-dasharray="1.2 1.4"/>
<path d="M305.5 355.8 L308.3 354.5 L308.3 357.1 Z" fill="#111"/>
<path d="M399.6 355.8 L396.8 354.5 L396.8 357.1 Z" fill="#111"/>
<line x1="403.3" y1="355.8" x2="485.4" y2="355.8" stroke="#222" stroke-width="0.9" stroke-dasharray="1.2 1.4"/>
<path d="M401.3 355.8 L404.1 354.5 L404.1 357.1 Z" fill="#111"/>
<path d="M487.4 355.8 L484.6 354.5 L484.6 357.1 Z" fill="#111"/>
<text x="349.5" y="365.6" font-size="6.6" text-anchor="middle" font-weight="bold" fill="#1a1a1a" stroke="#1a1a1a" stroke-width="0.2" >CC phase</text>
<text x="445.3" y="365.8" font-size="6.7" text-anchor="middle" font-weight="bold" fill="#1a1a1a" stroke="#1a1a1a" stroke-width="0.2" >CV phase</text>
<text x="263.3" y="198.7" font-size="10.0" text-anchor="start" font-weight="bold" fill="#1a1a1a" stroke="#1a1a1a" stroke-width="0.2" >D</text>
</svg></body></html>
